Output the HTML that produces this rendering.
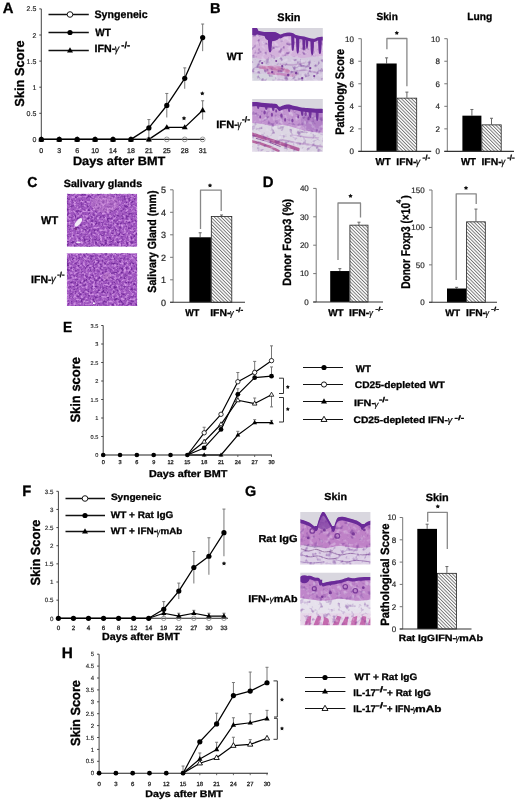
<!DOCTYPE html><html><head><meta charset="utf-8"><style>html,body{margin:0;padding:0;background:#fff;overflow:hidden;}svg{display:block;will-change:transform;}text{font-family:"Liberation Sans",sans-serif;text-rendering:geometricPrecision;}</style></head><body>
<svg width="520" height="803" viewBox="0 0 520 803" font-family="Liberation Sans, sans-serif">
<defs>
<pattern id="hatch" patternUnits="userSpaceOnUse" width="2.4" height="2.4" patternTransform="rotate(-45)">
<rect width="2.4" height="2.4" fill="#fff"/><line x1="0.5" y1="0" x2="0.5" y2="2.4" stroke="#444" stroke-width="0.7"/></pattern>
<filter id="spkD1" x="0" y="0" width="1" height="1" color-interpolation-filters="sRGB"><feTurbulence type="fractalNoise" baseFrequency="0.22" numOctaves="2" seed="11"/><feColorMatrix type="matrix" values="0 0 0 0 0.42  0 0 0 0 0.18  0 0 0 0 0.58  4 0 0 0 -2.15"/><feGaussianBlur stdDeviation="0.45"/></filter>
<filter id="spkL1" x="0" y="0" width="1" height="1" color-interpolation-filters="sRGB"><feTurbulence type="fractalNoise" baseFrequency="0.22" numOctaves="2" seed="23"/><feColorMatrix type="matrix" values="0 0 0 0 0.93  0 0 0 0 0.9  0 0 0 0 0.96  0 4 0 0 -2.05"/><feGaussianBlur stdDeviation="0.45"/></filter>
<filter id="spkD2" x="0" y="0" width="1" height="1" color-interpolation-filters="sRGB"><feTurbulence type="fractalNoise" baseFrequency="0.22" numOctaves="2" seed="37"/><feColorMatrix type="matrix" values="0 0 0 0 0.42  0 0 0 0 0.18  0 0 0 0 0.58  4 0 0 0 -2.15"/><feGaussianBlur stdDeviation="0.45"/></filter>
<filter id="spkL2" x="0" y="0" width="1" height="1" color-interpolation-filters="sRGB"><feTurbulence type="fractalNoise" baseFrequency="0.22" numOctaves="2" seed="41"/><feColorMatrix type="matrix" values="0 0 0 0 0.93  0 0 0 0 0.9  0 0 0 0 0.96  0 4 0 0 -2.05"/><feGaussianBlur stdDeviation="0.45"/></filter>
<filter id="glD1" x="0" y="0" width="1" height="1" color-interpolation-filters="sRGB"><feTurbulence type="fractalNoise" baseFrequency="0.42" numOctaves="2" seed="15"/><feColorMatrix type="matrix" values="0 0 0 0 0.44  0 0 0 0 0.16  0 0 0 0 0.6  3.4 0 0 0 -1.55"/><feGaussianBlur stdDeviation="0.4"/></filter>
<filter id="glL1" x="0" y="0" width="1" height="1" color-interpolation-filters="sRGB"><feTurbulence type="fractalNoise" baseFrequency="0.42" numOctaves="2" seed="19"/><feColorMatrix type="matrix" values="0 0 0 0 0.86  0 0 0 0 0.63  0 0 0 0 0.92  0 3.2 0 0 -1.45"/><feGaussianBlur stdDeviation="0.4"/></filter>
<filter id="glD2" x="0" y="0" width="1" height="1" color-interpolation-filters="sRGB"><feTurbulence type="fractalNoise" baseFrequency="0.42" numOctaves="2" seed="25"/><feColorMatrix type="matrix" values="0 0 0 0 0.44  0 0 0 0 0.16  0 0 0 0 0.6  3.4 0 0 0 -1.55"/><feGaussianBlur stdDeviation="0.4"/></filter>
<filter id="glL2" x="0" y="0" width="1" height="1" color-interpolation-filters="sRGB"><feTurbulence type="fractalNoise" baseFrequency="0.42" numOctaves="2" seed="29"/><feColorMatrix type="matrix" values="0 0 0 0 0.86  0 0 0 0 0.63  0 0 0 0 0.92  0 3.2 0 0 -1.45"/><feGaussianBlur stdDeviation="0.4"/></filter>
<filter id="imgblur" x="0" y="0" width="1" height="1" color-interpolation-filters="sRGB"><feGaussianBlur stdDeviation="0.6"/></filter>
</defs>
<rect width="520" height="803" fill="#fff"/>
<text x="2.65" y="13.3" font-size="15.07" font-weight="bold" fill="#000" textLength="10.72" lengthAdjust="spacingAndGlyphs" stroke="#000" stroke-width="0.3">A</text>
<line x1="41.3" y1="8.9" x2="41.3" y2="139.4" stroke="#444" stroke-width="1"/>
<line x1="39.3" y1="139.4" x2="41.3" y2="139.4" stroke="#444" stroke-width="1"/>
<text x="36.3" y="141.91" font-size="7" font-weight="normal" text-anchor="end" fill="#2a2a2a" stroke="#2a2a2a" stroke-width="0.18">0</text>
<line x1="39.3" y1="113.3" x2="41.3" y2="113.3" stroke="#444" stroke-width="1"/>
<text x="36.3" y="115.81" font-size="7" font-weight="normal" text-anchor="end" fill="#2a2a2a" stroke="#2a2a2a" stroke-width="0.18">0.5</text>
<line x1="39.3" y1="87.2" x2="41.3" y2="87.2" stroke="#444" stroke-width="1"/>
<text x="36.3" y="89.71" font-size="7" font-weight="normal" text-anchor="end" fill="#2a2a2a" stroke="#2a2a2a" stroke-width="0.18">1</text>
<line x1="39.3" y1="61.1" x2="41.3" y2="61.1" stroke="#444" stroke-width="1"/>
<text x="36.3" y="63.61" font-size="7" font-weight="normal" text-anchor="end" fill="#2a2a2a" stroke="#2a2a2a" stroke-width="0.18">1.5</text>
<line x1="39.3" y1="35" x2="41.3" y2="35" stroke="#444" stroke-width="1"/>
<text x="36.3" y="37.51" font-size="7" font-weight="normal" text-anchor="end" fill="#2a2a2a" stroke="#2a2a2a" stroke-width="0.18">2</text>
<line x1="39.3" y1="8.9" x2="41.3" y2="8.9" stroke="#444" stroke-width="1"/>
<text x="36.3" y="11.41" font-size="7" font-weight="normal" text-anchor="end" fill="#2a2a2a" stroke="#2a2a2a" stroke-width="0.18">2.5</text>
<line x1="41.3" y1="139.4" x2="204" y2="139.4" stroke="#222" stroke-width="1.1"/>
<text x="41.3" y="153.2" font-size="7" font-weight="normal" text-anchor="middle" fill="#2a2a2a" stroke="#222" stroke-width="0.28">0</text>
<text x="59.23" y="153.2" font-size="7" font-weight="normal" text-anchor="middle" fill="#2a2a2a" stroke="#222" stroke-width="0.28">3</text>
<text x="77.16" y="153.2" font-size="7" font-weight="normal" text-anchor="middle" fill="#2a2a2a" stroke="#222" stroke-width="0.28">6</text>
<text x="95.09" y="153.2" font-size="7" font-weight="normal" text-anchor="middle" fill="#2a2a2a" stroke="#222" stroke-width="0.28">10</text>
<text x="113.02" y="153.2" font-size="7" font-weight="normal" text-anchor="middle" fill="#2a2a2a" stroke="#222" stroke-width="0.28">14</text>
<text x="130.95" y="153.2" font-size="7" font-weight="normal" text-anchor="middle" fill="#2a2a2a" stroke="#222" stroke-width="0.28">18</text>
<text x="148.88" y="153.2" font-size="7" font-weight="normal" text-anchor="middle" fill="#2a2a2a" stroke="#222" stroke-width="0.28">21</text>
<text x="166.81" y="153.2" font-size="7" font-weight="normal" text-anchor="middle" fill="#2a2a2a" stroke="#222" stroke-width="0.28">25</text>
<text x="184.74" y="153.2" font-size="7" font-weight="normal" text-anchor="middle" fill="#2a2a2a" stroke="#222" stroke-width="0.28">28</text>
<text x="202.67" y="153.2" font-size="7" font-weight="normal" text-anchor="middle" fill="#2a2a2a" stroke="#222" stroke-width="0.28">31</text>
<text x="72.91" y="165.2" font-size="12.08" font-weight="bold" fill="#000" textLength="92.41" lengthAdjust="spacingAndGlyphs" stroke="#000" stroke-width="0.3">Days after BMT</text>
<text x="23.6" y="106.79" font-size="13.06" font-weight="bold" fill="#000" textLength="66.48" lengthAdjust="spacingAndGlyphs" transform="rotate(-90 23.6 106.79)" stroke="#000" stroke-width="0.3">Skin Score</text>
<line x1="48.5" y1="14.5" x2="88.8" y2="14.5" stroke="#111" stroke-width="1.4"/>
<circle cx="70" cy="14.5" r="2.8" fill="#fff" stroke="#000" stroke-width="0.9"/>
<line x1="48.5" y1="32.5" x2="88.8" y2="32.5" stroke="#111" stroke-width="1.4"/>
<circle cx="70" cy="32.5" r="2.6" fill="#000"/>
<line x1="48.5" y1="50.5" x2="88.8" y2="50.5" stroke="#111" stroke-width="1.4"/>
<polygon points="70,47.28 67.01,52.48 72.99,52.48" fill="#000"/>
<text x="94.48" y="17.6" font-size="10.83" font-weight="bold" fill="#000" textLength="53.25" lengthAdjust="spacingAndGlyphs" stroke="#000" stroke-width="0.3">Syngeneic</text>
<text x="95.3" y="36.3" font-size="10.58" font-weight="bold" fill="#000" textLength="15.55" lengthAdjust="spacingAndGlyphs" stroke="#000" stroke-width="0.3">WT</text>
<text x="94.55" y="51.9" font-size="10.43" font-weight="bold" fill="#000" textLength="20.71" lengthAdjust="spacingAndGlyphs" stroke="#000" stroke-width="0.3">IFN-</text>
<text x="114.62" y="52.11" font-size="10.41" font-weight="normal" fill="#000" textLength="4.79" lengthAdjust="spacingAndGlyphs" font-style="italic" stroke="#000" stroke-width="0.2">γ</text>
<text x="121.33" y="48.42" font-size="8.78" font-weight="bold" fill="#000" textLength="8.67" lengthAdjust="spacingAndGlyphs" stroke="#000" stroke-width="0.3">-/-</text>
<line x1="148.88" y1="119.56" x2="148.88" y2="136.27" stroke="#777" stroke-width="1"/>
<line x1="147.38" y1="119.56" x2="150.38" y2="119.56" stroke="#777" stroke-width="1"/>
<line x1="166.81" y1="93.46" x2="166.81" y2="117.48" stroke="#777" stroke-width="1"/>
<line x1="165.31" y1="93.46" x2="168.31" y2="93.46" stroke="#777" stroke-width="1"/>
<line x1="184.74" y1="67.89" x2="184.74" y2="88.77" stroke="#777" stroke-width="1"/>
<line x1="183.24" y1="67.89" x2="186.24" y2="67.89" stroke="#777" stroke-width="1"/>
<line x1="202.67" y1="24.04" x2="202.67" y2="51.18" stroke="#777" stroke-width="1"/>
<line x1="201.17" y1="24.04" x2="204.17" y2="24.04" stroke="#777" stroke-width="1"/>
<line x1="202.67" y1="100.77" x2="202.67" y2="119.56" stroke="#777" stroke-width="1"/>
<line x1="201.17" y1="100.77" x2="204.17" y2="100.77" stroke="#777" stroke-width="1"/>
<polyline points="41.3,139.4 59.23,139.4 77.16,139.4 95.09,139.4 113.02,139.4 130.95,139.4 148.88,127.92 166.81,105.47 184.74,78.33 202.67,37.61" fill="none" stroke="#000" stroke-width="1.3" stroke-linejoin="round"/>
<polyline points="41.3,139.4 59.23,139.4 77.16,139.4 95.09,139.4 113.02,139.4 130.95,139.4 148.88,139.4 166.81,127.39 184.74,127.39 202.67,110.17" fill="none" stroke="#000" stroke-width="1.3" stroke-linejoin="round"/>
<circle cx="148.88" cy="139.4" r="2.4" fill="none" stroke="#888" stroke-width="0.8"/>
<circle cx="166.81" cy="139.4" r="2.4" fill="none" stroke="#888" stroke-width="0.8"/>
<circle cx="184.74" cy="139.4" r="2.4" fill="none" stroke="#888" stroke-width="0.8"/>
<circle cx="202.67" cy="139.4" r="2.4" fill="none" stroke="#888" stroke-width="0.8"/>
<polygon points="41.3,136.18 38.31,141.38 44.29,141.38" fill="#000"/>
<polygon points="59.23,136.18 56.24,141.38 62.22,141.38" fill="#000"/>
<polygon points="77.16,136.18 74.17,141.38 80.15,141.38" fill="#000"/>
<polygon points="95.09,136.18 92.1,141.38 98.08,141.38" fill="#000"/>
<polygon points="113.02,136.18 110.03,141.38 116.01,141.38" fill="#000"/>
<polygon points="130.95,136.18 127.96,141.38 133.94,141.38" fill="#000"/>
<polygon points="148.88,136.18 145.89,141.38 151.87,141.38" fill="#000"/>
<polygon points="166.81,124.17 163.82,129.37 169.8,129.37" fill="#000"/>
<polygon points="184.74,124.17 181.75,129.37 187.73,129.37" fill="#000"/>
<polygon points="202.67,106.94 199.68,112.14 205.66,112.14" fill="#000"/>
<circle cx="41.3" cy="139.4" r="2.6" fill="#000"/>
<circle cx="59.23" cy="139.4" r="2.6" fill="#000"/>
<circle cx="77.16" cy="139.4" r="2.6" fill="#000"/>
<circle cx="95.09" cy="139.4" r="2.6" fill="#000"/>
<circle cx="113.02" cy="139.4" r="2.6" fill="#000"/>
<circle cx="130.95" cy="139.4" r="2.6" fill="#000"/>
<circle cx="148.88" cy="127.92" r="2.6" fill="#000"/>
<circle cx="166.81" cy="105.47" r="2.6" fill="#000"/>
<circle cx="184.74" cy="78.33" r="2.6" fill="#000"/>
<circle cx="202.67" cy="37.61" r="2.6" fill="#000"/>
<polygon points="184,116 184.74,117.28 186.19,117.59 185.2,118.69 185.35,120.16 184,119.56 182.65,120.16 182.8,118.69 181.81,117.59 183.26,117.28" fill="#111"/>
<polygon points="202.3,91.2 203.04,92.48 204.49,92.79 203.5,93.89 203.65,95.36 202.3,94.77 200.95,95.36 201.1,93.89 200.11,92.79 201.56,92.48" fill="#111"/>
<text x="209.98" y="13" font-size="14.2" font-weight="bold" fill="#000" textLength="10.54" lengthAdjust="spacingAndGlyphs" stroke="#000" stroke-width="0.3">B</text>
<text x="277.37" y="20.7" font-size="10.97" font-weight="bold" fill="#000" textLength="23.1" lengthAdjust="spacingAndGlyphs" stroke="#000" stroke-width="0.3">Skin</text>
<text x="226.7" y="59.7" font-size="10.58" font-weight="bold" fill="#000" textLength="16.35" lengthAdjust="spacingAndGlyphs" stroke="#000" stroke-width="0.3">WT</text>
<text x="216.22" y="127.8" font-size="10.58" font-weight="bold" fill="#000" textLength="21.67" lengthAdjust="spacingAndGlyphs" stroke="#000" stroke-width="0.3">IFN-</text>
<text x="237.33" y="128.23" font-size="10.81" font-weight="normal" fill="#000" textLength="3.96" lengthAdjust="spacingAndGlyphs" font-style="italic" stroke="#000" stroke-width="0.2">γ</text>
<text x="242.06" y="122.34" font-size="7.84" font-weight="bold" fill="#000" textLength="8.01" lengthAdjust="spacingAndGlyphs" stroke="#000" stroke-width="0.3">-/-</text>
<clipPath id="cl1"><rect x="0" y="0" width="70.6" height="52.6"/></clipPath>
<g transform="translate(252.2 28.1)" clip-path="url(#cl1)">
<g filter="url(#imgblur)">
<rect x="-1" y="-1" width="72.6" height="54.6" fill="#d8d6de"/>
<path d="M-1,-1 C-0.33,-0.63 1.67,0.57 3,1.2 C4.33,1.83 5.5,2.37 7,2.8 C8.5,3.23 10.17,3.6 12,3.8 C13.83,4 16,3.88 18,4 C20,4.12 22.33,4.12 24,4.5 C25.67,4.88 26.67,6.2 28,6.3 C29.33,6.4 30.5,5.4 32,5.1 C33.5,4.8 35.5,4.48 37,4.5 C38.5,4.52 39.83,4.78 41,5.2 C42.17,5.62 42.83,6.57 44,7 C45.17,7.43 46.67,7.58 48,7.8 C49.33,8.02 50.5,7.97 52,8.3 C53.5,8.63 55.33,9.42 57,9.8 C58.67,10.18 60.5,10.72 62,10.6 C63.5,10.48 64.33,9.42 66,9.1 C67.67,8.78 71,8.77 72,8.7 L71.6,53.6 L0,53.6 Z" fill="#d3b2db"/>
<path d="M-1,29 C0.83,29.33 6.17,30.83 10,31 C13.83,31.17 17.83,30.5 22,30 C26.17,29.5 30.67,28 35,28 C39.33,28 43.83,29.83 48,30 C52.17,30.17 56,29.33 60,29 C64,28.67 70,28.17 72,28 L71.6,53.6 L0,53.6 Z" fill="#d3c7de"/>
<rect x="-1" y="46" width="24" height="8" fill="#d4d3de"/>
<ellipse cx="22" cy="41" rx="11" ry="3.6" fill="#c890c2" opacity="0.85"/>
<ellipse cx="38" cy="46" rx="8" ry="2.6" fill="#c596c6" opacity="0.7"/>
<path d="M8,39 C9.33,39.08 13,39.17 16,39.5 C19,39.83 22.67,40.42 26,41 C29.33,41.58 34.33,42.67 36,43" fill="none" stroke="#c47cb0" stroke-width="3.4" stroke-linecap="round"/>
<path d="M16,45 C18,45.17 24,45.58 28,46 C32,46.42 38,47.25 40,47.5" fill="none" stroke="#c88ac0" stroke-width="2.4" stroke-linecap="round"/>
<path d="M40,44 C42,43.67 47.67,41.83 52,42 C56.33,42.17 63.67,44.5 66,45" fill="none" stroke="#b898c8" stroke-width="1.8" stroke-linecap="round"/>
<path d="M28,36 C30,36.17 36,37.17 40,37 C44,36.83 50,35.33 52,35" fill="none" stroke="#bfa0cc" stroke-width="1.5" stroke-linecap="round"/>
<rect x="0" y="0" width="70.6" height="52.6" filter="url(#spkD1)" opacity="0.55"/>
<rect x="0" y="0" width="70.6" height="52.6" filter="url(#spkL1)" opacity="0.4"/>
<path d="M-1,-1 C-0.33,-0.63 1.67,0.57 3,1.2 C4.33,1.83 5.5,2.37 7,2.8 C8.5,3.23 10.17,3.6 12,3.8 C13.83,4 16,3.88 18,4 C20,4.12 22.33,4.12 24,4.5 C25.67,4.88 26.67,6.2 28,6.3 C29.33,6.4 30.5,5.4 32,5.1 C33.5,4.8 35.5,4.48 37,4.5 C38.5,4.52 39.83,4.78 41,5.2 C42.17,5.62 42.83,6.57 44,7 C45.17,7.43 46.67,7.58 48,7.8 C49.33,8.02 50.5,7.97 52,8.3 C53.5,8.63 55.33,9.42 57,9.8 C58.67,10.18 60.5,10.72 62,10.6 C63.5,10.48 64.33,9.42 66,9.1 C67.67,8.78 71,8.77 72,8.7 L72.6,-2 L-2,-2 Z" fill="#d8d6de"/>
<path d="M-1,-1 C-0.33,-0.63 1.67,0.57 3,1.2 C4.33,1.83 5.5,2.37 7,2.8 C8.5,3.23 10.17,3.6 12,3.8 C13.83,4 16,3.88 18,4 C20,4.12 22.33,4.12 24,4.5 C25.67,4.88 26.67,6.2 28,6.3 C29.33,6.4 30.5,5.4 32,5.1 C33.5,4.8 35.5,4.48 37,4.5 C38.5,4.52 39.83,4.78 41,5.2 C42.17,5.62 42.83,6.57 44,7 C45.17,7.43 46.67,7.58 48,7.8 C49.33,8.02 50.5,7.97 52,8.3 C53.5,8.63 55.33,9.42 57,9.8 C58.67,10.18 60.5,10.72 62,10.6 C63.5,10.48 64.33,9.42 66,9.1 C67.67,8.78 71,8.77 72,8.7 L72,12.1 C71,12.17 67.67,12.18 66,12.5 C64.33,12.82 63.5,13.88 62,14 C60.5,14.12 58.67,13.58 57,13.2 C55.33,12.82 53.5,12.03 52,11.7 C50.5,11.37 49.33,11.42 48,11.2 C46.67,10.98 45.17,10.83 44,10.4 C42.83,9.97 42.17,9.02 41,8.6 C39.83,8.18 38.5,7.92 37,7.9 C35.5,7.88 33.5,8.07 32,8.5 C30.5,8.93 29.33,10.47 28,10.5 C26.67,10.53 25.67,9.08 24,8.7 C22.33,8.32 20,8.32 18,8.2 C16,8.08 13.83,8.2 12,8 C10.17,7.8 8.5,7.43 7,7 C5.5,6.57 4.33,6.03 3,5.4 C1.67,4.77 -0.33,3.57 -1,3.2 Z" fill="#6a2a98"/>
<ellipse cx="20" cy="8.5" rx="7.5" ry="4.6" fill="#6a2a98"/>
<ellipse cx="2" cy="3" rx="4" ry="4.5" fill="#6a2a98"/>
<path d="M15.7,9 C15.91,21.98 16.54,24.5 17.8,24.5 C19.06,24.5 19.69,21.98 19.9,9 Z" fill="#6a2a98" opacity="1"/>
<path d="M39,8 C39.16,20.98 39.64,22.9 40.6,22.9 C41.56,22.9 42.04,20.98 42.2,8 Z" fill="#6a2a98" opacity="1"/>
<path d="M43.8,9 C43.97,23.46 44.48,25.5 45.5,25.5 C46.52,25.5 47.03,23.46 47.2,9 Z" fill="#6a2a98" opacity="1"/>
<path d="M50.1,10 C50.26,20.08 50.74,22 51.7,22 C52.66,22 53.14,20.08 53.3,10 Z" fill="#6a2a98" opacity="1"/>
<path d="M53.5,10 C53.63,18.94 54.02,20.5 54.8,20.5 C55.58,20.5 55.97,18.94 56.1,10 Z" fill="#6a2a98" opacity="1"/>
<path d="M58.2,12 C58.38,24.84 58.92,27 60,27 C61.08,27 61.62,24.84 61.8,12 Z" fill="#6a2a98" opacity="1"/>
<path d="M65.9,11 C66.08,23.84 66.62,26 67.7,26 C68.78,26 69.32,23.84 69.5,11 Z" fill="#6a2a98" opacity="1"/>
<circle cx="44" cy="45" r="1.3" fill="#7a3f9c"/>
<circle cx="30" cy="38" r="1.1" fill="#7a3f9c"/>
<circle cx="58" cy="40" r="1.2" fill="#7a3f9c"/>
<circle cx="10" cy="35" r="1.1" fill="#7a3f9c"/>
<circle cx="20" cy="44" r="1.2" fill="#7a3f9c"/>
<circle cx="36" cy="47" r="1.3" fill="#7a3f9c"/>
<circle cx="62" cy="48" r="1.1" fill="#7a3f9c"/>
<circle cx="50" cy="50" r="1.2" fill="#7a3f9c"/>
<circle cx="24" cy="33" r="1" fill="#7a3f9c"/>
</g>
</g>
<clipPath id="cl2"><rect x="0" y="0" width="70.6" height="52.8"/></clipPath>
<g transform="translate(252.2 98.9)" clip-path="url(#cl2)">
<g filter="url(#imgblur)">
<rect x="-1" y="-1" width="72.6" height="54.8" fill="#d8d6de"/>
<path d="M-1,3.1 C0.17,3.13 3.77,3.13 6,3.3 C8.23,3.47 10.4,3.88 12.4,4.1 C14.4,4.32 16.05,4.42 18,4.6 C19.95,4.78 22.6,4.67 24.1,5.2 C25.6,5.73 25.85,7.58 27,7.8 C28.15,8.02 29.53,6.87 31,6.5 C32.47,6.13 34.3,5.6 35.8,5.6 C37.3,5.6 38.47,6.18 40,6.5 C41.53,6.82 43.5,7.17 45,7.5 C46.5,7.83 47.33,8.25 49,8.5 C50.67,8.75 53.05,8.83 55,9 C56.95,9.17 58.87,9.37 60.7,9.5 C62.53,9.63 64.12,9.72 66,9.8 C67.88,9.88 71,9.97 72,10 L71.6,53.8 L0,53.8 Z" fill="#c295d0"/>
<ellipse cx="62" cy="22" rx="13" ry="11" fill="#aa78c2" opacity="0.7"/>
<path d="M-1,24 C0.83,24.17 6.5,24.5 10,25 C13.5,25.5 16.67,26.83 20,27 C23.33,27.17 26.67,25.83 30,26 C33.33,26.17 36.67,27.17 40,28 C43.33,28.83 46.67,30.17 50,31 C53.33,31.83 56.33,32.5 60,33 C63.67,33.5 70,33.83 72,34 L71.6,53.8 L0,53.8 Z" fill="#dcd6e3"/>
<path d="M-1,35 C0.83,35.58 6.17,37.25 10,38.5 C13.83,39.75 18,41.17 22,42.5 C26,43.83 30,45.17 34,46.5 C38,47.83 44,49.83 46,50.5" fill="none" stroke="#b05e9c" stroke-width="3.4" stroke-linecap="round"/>
<path d="M-1,42 C0.5,42.42 4.83,43.5 8,44.5 C11.17,45.5 15,46.75 18,48 C21,49.25 24.67,51.33 26,52" fill="none" stroke="#b8689f" stroke-width="2.6" stroke-linecap="round"/>
<path d="M4,39.5 C6,40.08 12,41.67 16,43 C20,44.33 26,46.75 28,47.5" fill="none" stroke="#8a4a98" stroke-width="0.9" stroke-linecap="round"/>
<path d="M30,41 C32.33,41.5 39.33,43.17 44,44 C48.67,44.83 53.33,45.33 58,46 C62.67,46.67 69.67,47.67 72,48" fill="none" stroke="#bfa0cc" stroke-width="1.8" stroke-linecap="round"/>
<path d="M40,36 C42,36.33 47.67,37.5 52,38 C56.33,38.5 63.67,38.83 66,39" fill="none" stroke="#c4a8d2" stroke-width="1.5" stroke-linecap="round"/>
<rect x="0" y="0" width="70.6" height="52.8" filter="url(#spkD2)" opacity="0.45"/>
<rect x="0" y="0" width="70.6" height="52.8" filter="url(#spkL2)" opacity="0.45"/>
<path d="M-1,3.1 C0.17,3.13 3.77,3.13 6,3.3 C8.23,3.47 10.4,3.88 12.4,4.1 C14.4,4.32 16.05,4.42 18,4.6 C19.95,4.78 22.6,4.67 24.1,5.2 C25.6,5.73 25.85,7.58 27,7.8 C28.15,8.02 29.53,6.87 31,6.5 C32.47,6.13 34.3,5.6 35.8,5.6 C37.3,5.6 38.47,6.18 40,6.5 C41.53,6.82 43.5,7.17 45,7.5 C46.5,7.83 47.33,8.25 49,8.5 C50.67,8.75 53.05,8.83 55,9 C56.95,9.17 58.87,9.37 60.7,9.5 C62.53,9.63 64.12,9.72 66,9.8 C67.88,9.88 71,9.97 72,10 L72.6,-2 L-2,-2 Z" fill="#d8d6de"/>
<path d="M-1,3.1 C0.17,3.13 3.77,3.13 6,3.3 C8.23,3.47 10.4,3.88 12.4,4.1 C14.4,4.32 16.05,4.42 18,4.6 C19.95,4.78 22.6,4.67 24.1,5.2 C25.6,5.73 25.85,7.58 27,7.8 C28.15,8.02 29.53,6.87 31,6.5 C32.47,6.13 34.3,5.6 35.8,5.6 C37.3,5.6 38.47,6.18 40,6.5 C41.53,6.82 43.5,7.17 45,7.5 C46.5,7.83 47.33,8.25 49,8.5 C50.67,8.75 53.05,8.83 55,9 C56.95,9.17 58.87,9.37 60.7,9.5 C62.53,9.63 64.12,9.72 66,9.8 C67.88,9.88 71,9.97 72,10 L72,14.2 C71,14.17 67.88,14.08 66,14 C64.12,13.92 62.53,13.83 60.7,13.7 C58.87,13.57 56.95,13.37 55,13.2 C53.05,13.03 50.67,12.95 49,12.7 C47.33,12.45 46.5,12.03 45,11.7 C43.5,11.37 41.53,11.02 40,10.7 C38.47,10.38 37.3,9.8 35.8,9.8 C34.3,9.8 32.47,10.33 31,10.7 C29.53,11.07 28.15,12.22 27,12 C25.85,11.78 25.6,9.93 24.1,9.4 C22.6,8.87 19.95,8.98 18,8.8 C16.05,8.62 14.4,8.52 12.4,8.3 C10.4,8.08 8.23,7.67 6,7.5 C3.77,7.33 0.17,7.33 -1,7.3 Z" fill="#6a2a98"/>
<path d="M4.5,6 C4.65,8.2 5.1,10 6,10 C6.9,10 7.35,8.2 7.5,6 Z" fill="#6a2a98" opacity="0.9"/>
<path d="M12.5,7 C12.65,9.2 13.1,11 14,11 C14.9,11 15.35,9.2 15.5,7 Z" fill="#6a2a98" opacity="0.9"/>
<path d="M19.5,8 C19.65,10.2 20.1,12 21,12 C21.9,12 22.35,10.2 22.5,8 Z" fill="#6a2a98" opacity="0.9"/>
<path d="M35.5,9 C35.65,11.2 36.1,13 37,13 C37.9,13 38.35,11.2 38.5,9 Z" fill="#6a2a98" opacity="0.9"/>
<path d="M48.5,11 C48.65,15.2 49.1,17 50,17 C50.9,17 51.35,15.2 51.5,11 Z" fill="#6a2a98" opacity="0.9"/>
<path d="M56.5,12 C56.65,17.2 57.1,19 58,19 C58.9,19 59.35,17.2 59.5,12 Z" fill="#6a2a98" opacity="0.9"/>
<path d="M63.5,12 C63.65,20.2 64.1,22 65,22 C65.9,22 66.35,20.2 66.5,12 Z" fill="#6a2a98" opacity="0.9"/>
<ellipse cx="12.4" cy="13.6" rx="1.2" ry="2.1" fill="#7c3ca0" opacity="0.9"/>
<ellipse cx="19.7" cy="15.8" rx="1.12" ry="1.96" fill="#7c3ca0" opacity="0.9"/>
<ellipse cx="29.2" cy="16.6" rx="1.2" ry="2.1" fill="#7c3ca0" opacity="0.9"/>
<ellipse cx="32.9" cy="21" rx="1.04" ry="1.82" fill="#7c3ca0" opacity="0.9"/>
<ellipse cx="40.2" cy="21.7" rx="1.12" ry="1.96" fill="#7c3ca0" opacity="0.9"/>
<ellipse cx="53.4" cy="15.1" rx="1.28" ry="2.24" fill="#7c3ca0" opacity="0.9"/>
<ellipse cx="56.3" cy="19.5" rx="1.12" ry="1.96" fill="#7c3ca0" opacity="0.9"/>
<ellipse cx="8" cy="18" rx="0.96" ry="1.68" fill="#7c3ca0" opacity="0.9"/>
<ellipse cx="24" cy="12" rx="0.96" ry="1.68" fill="#7c3ca0" opacity="0.9"/>
<ellipse cx="46" cy="18" rx="0.96" ry="1.68" fill="#7c3ca0" opacity="0.9"/>
</g>
</g>
<line x1="386.6" y1="57.86" x2="386.6" y2="63.49" stroke="#666" stroke-width="1"/>
<line x1="385.1" y1="57.86" x2="388.1" y2="57.86" stroke="#666" stroke-width="1"/>
<line x1="406.9" y1="92.12" x2="406.9" y2="97.75" stroke="#666" stroke-width="1"/>
<line x1="405.4" y1="92.12" x2="408.4" y2="92.12" stroke="#666" stroke-width="1"/>
<line x1="361.3" y1="38.7" x2="361.3" y2="151.4" stroke="#777" stroke-width="1"/>
<line x1="358.3" y1="151.4" x2="361.3" y2="151.4" stroke="#777" stroke-width="1"/>
<text x="353.9" y="154.26" font-size="8" font-weight="normal" text-anchor="end" fill="#2a2a2a" stroke="#2a2a2a" stroke-width="0.2">0</text>
<line x1="358.3" y1="128.86" x2="361.3" y2="128.86" stroke="#777" stroke-width="1"/>
<text x="353.9" y="131.72" font-size="8" font-weight="normal" text-anchor="end" fill="#2a2a2a" stroke="#2a2a2a" stroke-width="0.2">2</text>
<line x1="358.3" y1="106.32" x2="361.3" y2="106.32" stroke="#777" stroke-width="1"/>
<text x="353.9" y="109.18" font-size="8" font-weight="normal" text-anchor="end" fill="#2a2a2a" stroke="#2a2a2a" stroke-width="0.2">4</text>
<line x1="358.3" y1="83.78" x2="361.3" y2="83.78" stroke="#777" stroke-width="1"/>
<text x="353.9" y="86.64" font-size="8" font-weight="normal" text-anchor="end" fill="#2a2a2a" stroke="#2a2a2a" stroke-width="0.2">6</text>
<line x1="358.3" y1="61.24" x2="361.3" y2="61.24" stroke="#777" stroke-width="1"/>
<text x="353.9" y="64.1" font-size="8" font-weight="normal" text-anchor="end" fill="#2a2a2a" stroke="#2a2a2a" stroke-width="0.2">8</text>
<line x1="358.3" y1="38.7" x2="361.3" y2="38.7" stroke="#777" stroke-width="1"/>
<text x="353.9" y="41.56" font-size="8" font-weight="normal" text-anchor="end" fill="#2a2a2a" stroke="#2a2a2a" stroke-width="0.2">10</text>
<rect x="376.5" y="63.49" width="20.2" height="87.91" fill="#000"/>
<rect x="397.1" y="98.15" width="19.6" height="53.25" fill="url(#hatch)" stroke="#222" stroke-width="0.8"/>
<line x1="358.3" y1="151.4" x2="431.2" y2="151.4" stroke="#333" stroke-width="1.1"/>
<polyline points="386.9,49.3 386.9,38.5 406.9,38.5 406.9,86.3" fill="none" stroke="#888" stroke-width="1.3" stroke-linejoin="round"/>
<polygon points="396.8,30.7 397.54,31.98 398.99,32.29 398,33.39 398.15,34.86 396.8,34.27 395.45,34.86 395.6,33.39 394.61,32.29 396.06,31.98" fill="#111"/>
<text x="376.5" y="20" font-size="10.28" font-weight="bold" fill="#000" textLength="21.33" lengthAdjust="spacingAndGlyphs" stroke="#000" stroke-width="0.3">Skin</text>
<text x="344.1" y="134.66" font-size="12.36" font-weight="bold" fill="#000" textLength="85.7" lengthAdjust="spacingAndGlyphs" transform="rotate(-90 344.1 134.66)" stroke="#000" stroke-width="0.3">Pathology Score</text>
<text x="375.5" y="165.3" font-size="10.14" font-weight="bold" fill="#000" textLength="15.14" lengthAdjust="spacingAndGlyphs" stroke="#000" stroke-width="0.3">WT</text>
<text x="396.38" y="164.9" font-size="9.71" font-weight="bold" fill="#000" textLength="19.97" lengthAdjust="spacingAndGlyphs" stroke="#000" stroke-width="0.3">IFN-</text>
<text x="415.78" y="165.33" font-size="9.86" font-weight="normal" fill="#000" textLength="4.37" lengthAdjust="spacingAndGlyphs" font-style="italic" stroke="#000" stroke-width="0.2">γ</text>
<text x="422.47" y="160.35" font-size="7.3" font-weight="bold" fill="#000" textLength="7.68" lengthAdjust="spacingAndGlyphs" stroke="#000" stroke-width="0.3">-/-</text>
<line x1="471.9" y1="109.48" x2="471.9" y2="115.67" stroke="#666" stroke-width="1"/>
<line x1="470.4" y1="109.48" x2="473.4" y2="109.48" stroke="#666" stroke-width="1"/>
<line x1="491.5" y1="118.27" x2="491.5" y2="124.46" stroke="#666" stroke-width="1"/>
<line x1="490" y1="118.27" x2="493" y2="118.27" stroke="#666" stroke-width="1"/>
<line x1="447.3" y1="38.7" x2="447.3" y2="151.4" stroke="#777" stroke-width="1"/>
<line x1="444.3" y1="151.4" x2="447.3" y2="151.4" stroke="#777" stroke-width="1"/>
<text x="439.9" y="154.26" font-size="8" font-weight="normal" text-anchor="end" fill="#2a2a2a" stroke="#2a2a2a" stroke-width="0.2">0</text>
<line x1="444.3" y1="128.86" x2="447.3" y2="128.86" stroke="#777" stroke-width="1"/>
<text x="439.9" y="131.72" font-size="8" font-weight="normal" text-anchor="end" fill="#2a2a2a" stroke="#2a2a2a" stroke-width="0.2">2</text>
<line x1="444.3" y1="106.32" x2="447.3" y2="106.32" stroke="#777" stroke-width="1"/>
<text x="439.9" y="109.18" font-size="8" font-weight="normal" text-anchor="end" fill="#2a2a2a" stroke="#2a2a2a" stroke-width="0.2">4</text>
<line x1="444.3" y1="83.78" x2="447.3" y2="83.78" stroke="#777" stroke-width="1"/>
<text x="439.9" y="86.64" font-size="8" font-weight="normal" text-anchor="end" fill="#2a2a2a" stroke="#2a2a2a" stroke-width="0.2">6</text>
<line x1="444.3" y1="61.24" x2="447.3" y2="61.24" stroke="#777" stroke-width="1"/>
<text x="439.9" y="64.1" font-size="8" font-weight="normal" text-anchor="end" fill="#2a2a2a" stroke="#2a2a2a" stroke-width="0.2">8</text>
<line x1="444.3" y1="38.7" x2="447.3" y2="38.7" stroke="#777" stroke-width="1"/>
<text x="439.9" y="41.56" font-size="8" font-weight="normal" text-anchor="end" fill="#2a2a2a" stroke="#2a2a2a" stroke-width="0.2">10</text>
<rect x="462.4" y="115.67" width="19" height="35.73" fill="#000"/>
<rect x="481.8" y="124.86" width="19.4" height="26.54" fill="url(#hatch)" stroke="#222" stroke-width="0.8"/>
<line x1="444.3" y1="151.4" x2="514" y2="151.4" stroke="#333" stroke-width="1.1"/>
<text x="467.18" y="20.4" font-size="10.43" font-weight="bold" fill="#000" textLength="24.96" lengthAdjust="spacingAndGlyphs" stroke="#000" stroke-width="0.3">Lung</text>
<text x="460.9" y="165.3" font-size="10.14" font-weight="bold" fill="#000" textLength="15.14" lengthAdjust="spacingAndGlyphs" stroke="#000" stroke-width="0.3">WT</text>
<text x="481.47" y="164.9" font-size="9.71" font-weight="bold" fill="#000" textLength="20.18" lengthAdjust="spacingAndGlyphs" stroke="#000" stroke-width="0.3">IFN-</text>
<text x="501.1" y="165.33" font-size="9.86" font-weight="normal" fill="#000" textLength="4.17" lengthAdjust="spacingAndGlyphs" font-style="italic" stroke="#000" stroke-width="0.2">γ</text>
<text x="507.17" y="160.35" font-size="7.3" font-weight="bold" fill="#000" textLength="7.68" lengthAdjust="spacingAndGlyphs" stroke="#000" stroke-width="0.3">-/-</text>
<text x="27.33" y="186.9" font-size="14.43" font-weight="bold" fill="#000" textLength="10.22" lengthAdjust="spacingAndGlyphs" stroke="#000" stroke-width="0.3">C</text>
<text x="63.78" y="187.1" font-size="10.42" font-weight="bold" fill="#000" textLength="78.31" lengthAdjust="spacingAndGlyphs" stroke="#000" stroke-width="0.3">Salivary glands</text>
<text x="41.1" y="223.9" font-size="11.16" font-weight="bold" fill="#000" textLength="17.06" lengthAdjust="spacingAndGlyphs" stroke="#000" stroke-width="0.3">WT</text>
<text x="31.06" y="282.6" font-size="10.58" font-weight="bold" fill="#000" textLength="20.5" lengthAdjust="spacingAndGlyphs" stroke="#000" stroke-width="0.3">IFN-</text>
<text x="50.92" y="282.43" font-size="9.86" font-weight="normal" fill="#000" textLength="4.79" lengthAdjust="spacingAndGlyphs" font-style="italic" stroke="#000" stroke-width="0.2">γ</text>
<text x="57.29" y="276.66" font-size="7.16" font-weight="bold" fill="#000" textLength="7.24" lengthAdjust="spacingAndGlyphs" stroke="#000" stroke-width="0.3">-/-</text>
<clipPath id="cl3"><rect x="0" y="0" width="70.3" height="52.9"/></clipPath>
<g transform="translate(66.9 193.8)" clip-path="url(#cl3)">
<rect x="0" y="0" width="70.3" height="52.9" fill="#a056c0"/>
<rect x="0" y="0" width="70.3" height="52.9" filter="url(#glD1)" opacity="1"/>
<rect x="0" y="0" width="70.3" height="52.9" filter="url(#glL1)" opacity="0.85"/>
<ellipse cx="11.5" cy="28.5" rx="2.2" ry="5.2" transform="rotate(40 11.5 28.5)" fill="#f1ebf6"/>
<ellipse cx="11.5" cy="48.5" rx="2.4" ry="0.9" fill="#eee6f4"/>
<ellipse cx="38" cy="10" rx="14" ry="9" fill="#d49ad8" opacity="0.3"/>
<circle cx="9" cy="35" r="1.2" fill="#7a2f8a"/>
</g>
<clipPath id="cl4"><rect x="0" y="0" width="70.3" height="52.8"/></clipPath>
<g transform="translate(66.9 253.2)" clip-path="url(#cl4)">
<rect x="0" y="0" width="70.3" height="52.8" fill="#a056c0"/>
<rect x="0" y="0" width="70.3" height="52.8" filter="url(#glD2)" opacity="1"/>
<rect x="0" y="0" width="70.3" height="52.8" filter="url(#glL2)" opacity="0.85"/>
<circle cx="27" cy="50" r="1" fill="#fff"/>
<ellipse cx="40" cy="23" rx="4" ry="3.5" fill="#d7a0d0" opacity="0.3"/>
</g>
<line x1="200.15" y1="232.78" x2="200.15" y2="237.28" stroke="#666" stroke-width="1"/>
<line x1="198.65" y1="232.78" x2="201.65" y2="232.78" stroke="#666" stroke-width="1"/>
<line x1="221.55" y1="215" x2="221.55" y2="216.12" stroke="#666" stroke-width="1"/>
<line x1="220.05" y1="215" x2="223.05" y2="215" stroke="#666" stroke-width="1"/>
<line x1="173.1" y1="189.8" x2="173.1" y2="302.3" stroke="#777" stroke-width="1"/>
<line x1="170.1" y1="302.3" x2="173.1" y2="302.3" stroke="#777" stroke-width="1"/>
<text x="166.1" y="305.52" font-size="9" font-weight="normal" text-anchor="end" fill="#2a2a2a" stroke="#2a2a2a" stroke-width="0.23">0</text>
<line x1="170.1" y1="279.8" x2="173.1" y2="279.8" stroke="#777" stroke-width="1"/>
<text x="166.1" y="283.02" font-size="9" font-weight="normal" text-anchor="end" fill="#2a2a2a" stroke="#2a2a2a" stroke-width="0.23">1</text>
<line x1="170.1" y1="257.3" x2="173.1" y2="257.3" stroke="#777" stroke-width="1"/>
<text x="166.1" y="260.52" font-size="9" font-weight="normal" text-anchor="end" fill="#2a2a2a" stroke="#2a2a2a" stroke-width="0.23">2</text>
<line x1="170.1" y1="234.8" x2="173.1" y2="234.8" stroke="#777" stroke-width="1"/>
<text x="166.1" y="238.02" font-size="9" font-weight="normal" text-anchor="end" fill="#2a2a2a" stroke="#2a2a2a" stroke-width="0.23">3</text>
<line x1="170.1" y1="212.3" x2="173.1" y2="212.3" stroke="#777" stroke-width="1"/>
<text x="166.1" y="215.52" font-size="9" font-weight="normal" text-anchor="end" fill="#2a2a2a" stroke="#2a2a2a" stroke-width="0.23">4</text>
<line x1="170.1" y1="189.8" x2="173.1" y2="189.8" stroke="#777" stroke-width="1"/>
<text x="166.1" y="193.02" font-size="9" font-weight="normal" text-anchor="end" fill="#2a2a2a" stroke="#2a2a2a" stroke-width="0.23">5</text>
<rect x="189.4" y="237.28" width="21.5" height="65.03" fill="#000"/>
<rect x="211.3" y="216.53" width="20.5" height="85.78" fill="url(#hatch)" stroke="#222" stroke-width="0.8"/>
<line x1="170.1" y1="302.3" x2="245" y2="302.3" stroke="#333" stroke-width="1.1"/>
<polyline points="200.5,229 200.5,190.2 221.2,190.2 221.2,211" fill="none" stroke="#888" stroke-width="1.3" stroke-linejoin="round"/>
<polygon points="210,183.2 210.74,184.48 212.19,184.79 211.2,185.89 211.35,187.36 210,186.76 208.65,187.36 208.8,185.89 207.81,184.79 209.26,184.48" fill="#111"/>
<text x="185.2" y="315.7" font-size="10" font-weight="bold" fill="#000" textLength="14.03" lengthAdjust="spacingAndGlyphs" stroke="#000" stroke-width="0.3">WT</text>
<text x="210.17" y="315.7" font-size="10" font-weight="bold" fill="#000" textLength="20.29" lengthAdjust="spacingAndGlyphs" stroke="#000" stroke-width="0.3">IFN-</text>
<text x="229.72" y="316.01" font-size="9.46" font-weight="normal" fill="#000" textLength="3.96" lengthAdjust="spacingAndGlyphs" font-style="italic" stroke="#000" stroke-width="0.2">γ</text>
<text x="235.68" y="311.68" font-size="6.22" font-weight="bold" fill="#000" textLength="7.57" lengthAdjust="spacingAndGlyphs" stroke="#000" stroke-width="0.3">-/-</text>
<text x="155.7" y="292.62" font-size="11.81" font-weight="bold" fill="#000" textLength="102.14" lengthAdjust="spacingAndGlyphs" transform="rotate(-90 155.7 292.62)" stroke="#000" stroke-width="0.3">Salivary Gland (mm)</text>
<text x="262.86" y="187.1" font-size="14.93" font-weight="bold" fill="#000" textLength="10.77" lengthAdjust="spacingAndGlyphs" stroke="#000" stroke-width="0.3">D</text>
<line x1="339.85" y1="268.63" x2="339.85" y2="271.04" stroke="#666" stroke-width="1"/>
<line x1="338.35" y1="268.63" x2="341.35" y2="268.63" stroke="#666" stroke-width="1"/>
<line x1="358.95" y1="222.2" x2="358.95" y2="224.75" stroke="#666" stroke-width="1"/>
<line x1="357.45" y1="222.2" x2="360.45" y2="222.2" stroke="#666" stroke-width="1"/>
<line x1="316.2" y1="188.4" x2="316.2" y2="302" stroke="#777" stroke-width="1"/>
<line x1="313.2" y1="302" x2="316.2" y2="302" stroke="#777" stroke-width="1"/>
<text x="308.8" y="304.86" font-size="8" font-weight="normal" text-anchor="end" fill="#2a2a2a" stroke="#2a2a2a" stroke-width="0.2">0</text>
<line x1="313.2" y1="273.6" x2="316.2" y2="273.6" stroke="#777" stroke-width="1"/>
<text x="308.8" y="276.46" font-size="8" font-weight="normal" text-anchor="end" fill="#2a2a2a" stroke="#2a2a2a" stroke-width="0.2">10</text>
<line x1="313.2" y1="245.2" x2="316.2" y2="245.2" stroke="#777" stroke-width="1"/>
<text x="308.8" y="248.06" font-size="8" font-weight="normal" text-anchor="end" fill="#2a2a2a" stroke="#2a2a2a" stroke-width="0.2">20</text>
<line x1="313.2" y1="216.8" x2="316.2" y2="216.8" stroke="#777" stroke-width="1"/>
<text x="308.8" y="219.66" font-size="8" font-weight="normal" text-anchor="end" fill="#2a2a2a" stroke="#2a2a2a" stroke-width="0.2">30</text>
<line x1="313.2" y1="188.4" x2="316.2" y2="188.4" stroke="#777" stroke-width="1"/>
<text x="308.8" y="191.26" font-size="8" font-weight="normal" text-anchor="end" fill="#2a2a2a" stroke="#2a2a2a" stroke-width="0.2">40</text>
<rect x="330.2" y="271.04" width="19.3" height="30.96" fill="#000"/>
<rect x="349.9" y="225.15" width="18.1" height="76.85" fill="url(#hatch)" stroke="#222" stroke-width="0.8"/>
<line x1="313.2" y1="302" x2="383" y2="302" stroke="#333" stroke-width="1.1"/>
<polyline points="338,260 338,203 360.5,203 360.5,217.5" fill="none" stroke="#888" stroke-width="1.3" stroke-linejoin="round"/>
<polygon points="350.5,193.7 351.24,194.98 352.69,195.29 351.7,196.39 351.85,197.86 350.5,197.26 349.15,197.86 349.3,196.39 348.31,195.29 349.76,194.98" fill="#111"/>
<text x="328.2" y="316.1" font-size="10" font-weight="bold" fill="#000" textLength="15.45" lengthAdjust="spacingAndGlyphs" stroke="#000" stroke-width="0.3">WT</text>
<text x="349.07" y="316.1" font-size="10" font-weight="bold" fill="#000" textLength="20.18" lengthAdjust="spacingAndGlyphs" stroke="#000" stroke-width="0.3">IFN-</text>
<text x="368.92" y="315.84" font-size="9.32" font-weight="normal" fill="#000" textLength="3.96" lengthAdjust="spacingAndGlyphs" font-style="italic" stroke="#000" stroke-width="0.2">γ</text>
<text x="375.48" y="311.38" font-size="5.81" font-weight="bold" fill="#000" textLength="7.57" lengthAdjust="spacingAndGlyphs" stroke="#000" stroke-width="0.3">-/-</text>
<text x="291.2" y="285.76" font-size="11.94" font-weight="bold" fill="#000" textLength="86.99" lengthAdjust="spacingAndGlyphs" transform="rotate(-90 291.2 285.76)" stroke="#000" stroke-width="0.3">Donor Foxp3 (%)</text>
<line x1="456.6" y1="287.33" x2="456.6" y2="288.52" stroke="#666" stroke-width="1"/>
<line x1="455.1" y1="287.33" x2="458.1" y2="287.33" stroke="#666" stroke-width="1"/>
<line x1="475.95" y1="209.09" x2="475.95" y2="221.44" stroke="#666" stroke-width="1"/>
<line x1="474.45" y1="209.09" x2="477.45" y2="209.09" stroke="#666" stroke-width="1"/>
<line x1="432" y1="190" x2="432" y2="302.3" stroke="#777" stroke-width="1"/>
<line x1="429" y1="302.3" x2="432" y2="302.3" stroke="#777" stroke-width="1"/>
<text x="424.6" y="305.16" font-size="8" font-weight="normal" text-anchor="end" fill="#2a2a2a" stroke="#2a2a2a" stroke-width="0.2">0</text>
<line x1="429" y1="264.87" x2="432" y2="264.87" stroke="#777" stroke-width="1"/>
<text x="424.6" y="267.73" font-size="8" font-weight="normal" text-anchor="end" fill="#2a2a2a" stroke="#2a2a2a" stroke-width="0.2">50</text>
<line x1="429" y1="227.43" x2="432" y2="227.43" stroke="#777" stroke-width="1"/>
<text x="424.6" y="230.29" font-size="8" font-weight="normal" text-anchor="end" fill="#2a2a2a" stroke="#2a2a2a" stroke-width="0.2">100</text>
<line x1="429" y1="190" x2="432" y2="190" stroke="#777" stroke-width="1"/>
<text x="424.6" y="192.86" font-size="8" font-weight="normal" text-anchor="end" fill="#2a2a2a" stroke="#2a2a2a" stroke-width="0.2">150</text>
<rect x="447" y="288.52" width="19.2" height="13.78" fill="#000"/>
<rect x="466.6" y="221.84" width="18.7" height="80.46" fill="url(#hatch)" stroke="#222" stroke-width="0.8"/>
<line x1="429" y1="302.3" x2="497" y2="302.3" stroke="#333" stroke-width="1.1"/>
<polyline points="456.2,280 456.2,193.8 476.2,193.8 476.2,204" fill="none" stroke="#888" stroke-width="1.3" stroke-linejoin="round"/>
<polygon points="466,185.7 466.74,186.98 468.19,187.29 467.2,188.39 467.35,189.86 466,189.26 464.65,189.86 464.8,188.39 463.81,187.29 465.26,186.98" fill="#111"/>
<text x="445.2" y="316.1" font-size="9.57" font-weight="bold" fill="#000" textLength="14.84" lengthAdjust="spacingAndGlyphs" stroke="#000" stroke-width="0.3">WT</text>
<text x="466.08" y="316.1" font-size="10" font-weight="bold" fill="#000" textLength="19.97" lengthAdjust="spacingAndGlyphs" stroke="#000" stroke-width="0.3">IFN-</text>
<text x="485.34" y="316.01" font-size="9.46" font-weight="normal" fill="#000" textLength="3.85" lengthAdjust="spacingAndGlyphs" font-style="italic" stroke="#000" stroke-width="0.2">γ</text>
<text x="491.28" y="311.38" font-size="5.81" font-weight="bold" fill="#000" textLength="7.57" lengthAdjust="spacingAndGlyphs" stroke="#000" stroke-width="0.3">-/-</text>
<text x="410.2" y="288.81" font-size="12.78" font-weight="bold" fill="#000" textLength="85.84" lengthAdjust="spacingAndGlyphs" transform="rotate(-90 410.2 288.81)" stroke="#000" stroke-width="0.3">Donor Foxp3 (×10</text>
<text x="401" y="203.4" font-size="6.8" font-weight="bold" stroke="#000" stroke-width="0.25" transform="rotate(-90 401 203.4)">4</text>
<text x="408.6" y="198.8" font-size="11" font-weight="bold" stroke="#000" stroke-width="0.25" transform="rotate(-90 408.6 198.8)">)</text>
<text x="62.94" y="331.9" font-size="14.64" font-weight="bold" fill="#000" textLength="9.17" lengthAdjust="spacingAndGlyphs" stroke="#000" stroke-width="0.3">E</text>
<line x1="103.2" y1="325.5" x2="103.2" y2="455" stroke="#444" stroke-width="1"/>
<line x1="101.2" y1="455" x2="103.2" y2="455" stroke="#444" stroke-width="1"/>
<text x="98.4" y="457" font-size="5.6" font-weight="normal" text-anchor="end" fill="#2a2a2a" stroke="#2a2a2a" stroke-width="0.14">0</text>
<line x1="101.2" y1="436.5" x2="103.2" y2="436.5" stroke="#444" stroke-width="1"/>
<text x="98.4" y="438.5" font-size="5.6" font-weight="normal" text-anchor="end" fill="#2a2a2a" stroke="#2a2a2a" stroke-width="0.14">0.5</text>
<line x1="101.2" y1="418" x2="103.2" y2="418" stroke="#444" stroke-width="1"/>
<text x="98.4" y="420" font-size="5.6" font-weight="normal" text-anchor="end" fill="#2a2a2a" stroke="#2a2a2a" stroke-width="0.14">1</text>
<line x1="101.2" y1="399.5" x2="103.2" y2="399.5" stroke="#444" stroke-width="1"/>
<text x="98.4" y="401.5" font-size="5.6" font-weight="normal" text-anchor="end" fill="#2a2a2a" stroke="#2a2a2a" stroke-width="0.14">1.5</text>
<line x1="101.2" y1="381" x2="103.2" y2="381" stroke="#444" stroke-width="1"/>
<text x="98.4" y="383" font-size="5.6" font-weight="normal" text-anchor="end" fill="#2a2a2a" stroke="#2a2a2a" stroke-width="0.14">2</text>
<line x1="101.2" y1="362.5" x2="103.2" y2="362.5" stroke="#444" stroke-width="1"/>
<text x="98.4" y="364.5" font-size="5.6" font-weight="normal" text-anchor="end" fill="#2a2a2a" stroke="#2a2a2a" stroke-width="0.14">2.5</text>
<line x1="101.2" y1="344" x2="103.2" y2="344" stroke="#444" stroke-width="1"/>
<text x="98.4" y="346" font-size="5.6" font-weight="normal" text-anchor="end" fill="#2a2a2a" stroke="#2a2a2a" stroke-width="0.14">3</text>
<line x1="101.2" y1="325.5" x2="103.2" y2="325.5" stroke="#444" stroke-width="1"/>
<text x="98.4" y="327.5" font-size="5.6" font-weight="normal" text-anchor="end" fill="#2a2a2a" stroke="#2a2a2a" stroke-width="0.14">3.5</text>
<line x1="103.2" y1="455" x2="272" y2="455" stroke="#222" stroke-width="1.1"/>
<line x1="103.2" y1="455" x2="103.2" y2="457" stroke="#444" stroke-width="0.8"/>
<text x="103.2" y="464.3" font-size="5.6" font-weight="normal" text-anchor="middle" fill="#2a2a2a" stroke="#222" stroke-width="0.28">0</text>
<line x1="120.03" y1="455" x2="120.03" y2="457" stroke="#444" stroke-width="0.8"/>
<text x="120.03" y="464.3" font-size="5.6" font-weight="normal" text-anchor="middle" fill="#2a2a2a" stroke="#222" stroke-width="0.28">3</text>
<line x1="136.86" y1="455" x2="136.86" y2="457" stroke="#444" stroke-width="0.8"/>
<text x="136.86" y="464.3" font-size="5.6" font-weight="normal" text-anchor="middle" fill="#2a2a2a" stroke="#222" stroke-width="0.28">6</text>
<line x1="153.69" y1="455" x2="153.69" y2="457" stroke="#444" stroke-width="0.8"/>
<text x="153.69" y="464.3" font-size="5.6" font-weight="normal" text-anchor="middle" fill="#2a2a2a" stroke="#222" stroke-width="0.28">9</text>
<line x1="170.52" y1="455" x2="170.52" y2="457" stroke="#444" stroke-width="0.8"/>
<text x="170.52" y="464.3" font-size="5.6" font-weight="normal" text-anchor="middle" fill="#2a2a2a" stroke="#222" stroke-width="0.28">12</text>
<line x1="187.35" y1="455" x2="187.35" y2="457" stroke="#444" stroke-width="0.8"/>
<text x="187.35" y="464.3" font-size="5.6" font-weight="normal" text-anchor="middle" fill="#2a2a2a" stroke="#222" stroke-width="0.28">15</text>
<line x1="204.18" y1="455" x2="204.18" y2="457" stroke="#444" stroke-width="0.8"/>
<text x="204.18" y="464.3" font-size="5.6" font-weight="normal" text-anchor="middle" fill="#2a2a2a" stroke="#222" stroke-width="0.28">18</text>
<line x1="221.01" y1="455" x2="221.01" y2="457" stroke="#444" stroke-width="0.8"/>
<text x="221.01" y="464.3" font-size="5.6" font-weight="normal" text-anchor="middle" fill="#2a2a2a" stroke="#222" stroke-width="0.28">21</text>
<line x1="237.84" y1="455" x2="237.84" y2="457" stroke="#444" stroke-width="0.8"/>
<text x="237.84" y="464.3" font-size="5.6" font-weight="normal" text-anchor="middle" fill="#2a2a2a" stroke="#222" stroke-width="0.28">24</text>
<line x1="254.67" y1="455" x2="254.67" y2="457" stroke="#444" stroke-width="0.8"/>
<text x="254.67" y="464.3" font-size="5.6" font-weight="normal" text-anchor="middle" fill="#2a2a2a" stroke="#222" stroke-width="0.28">27</text>
<line x1="271.5" y1="455" x2="271.5" y2="457" stroke="#444" stroke-width="0.8"/>
<text x="271.5" y="464.3" font-size="5.6" font-weight="normal" text-anchor="middle" fill="#2a2a2a" stroke="#222" stroke-width="0.28">30</text>
<text x="148.95" y="477" font-size="9.86" font-weight="bold" fill="#000" textLength="78.46" lengthAdjust="spacingAndGlyphs" stroke="#000" stroke-width="0.3">Days after BMT</text>
<text x="79.9" y="422.59" font-size="13.47" font-weight="bold" fill="#000" textLength="65.58" lengthAdjust="spacingAndGlyphs" transform="rotate(-90 79.9 422.59)" stroke="#000" stroke-width="0.3">Skin score</text>
<line x1="204.18" y1="427.25" x2="204.18" y2="432.8" stroke="#777" stroke-width="1"/>
<line x1="202.68" y1="427.25" x2="205.68" y2="427.25" stroke="#777" stroke-width="1"/>
<line x1="237.84" y1="372.49" x2="237.84" y2="381.74" stroke="#777" stroke-width="1"/>
<line x1="236.34" y1="372.49" x2="239.34" y2="372.49" stroke="#777" stroke-width="1"/>
<line x1="254.67" y1="361.39" x2="254.67" y2="372.49" stroke="#777" stroke-width="1"/>
<line x1="253.17" y1="361.39" x2="256.17" y2="361.39" stroke="#777" stroke-width="1"/>
<line x1="271.5" y1="345.85" x2="271.5" y2="360.65" stroke="#777" stroke-width="1"/>
<line x1="270" y1="345.85" x2="273" y2="345.85" stroke="#777" stroke-width="1"/>
<line x1="221.01" y1="425.77" x2="221.01" y2="429.47" stroke="#777" stroke-width="1"/>
<line x1="219.51" y1="425.77" x2="222.51" y2="425.77" stroke="#777" stroke-width="1"/>
<line x1="237.84" y1="388.77" x2="237.84" y2="394.32" stroke="#777" stroke-width="1"/>
<line x1="236.34" y1="388.77" x2="239.34" y2="388.77" stroke="#777" stroke-width="1"/>
<line x1="254.67" y1="370.27" x2="254.67" y2="377.67" stroke="#777" stroke-width="1"/>
<line x1="253.17" y1="370.27" x2="256.17" y2="370.27" stroke="#777" stroke-width="1"/>
<line x1="271.5" y1="366.94" x2="271.5" y2="376.19" stroke="#777" stroke-width="1"/>
<line x1="270" y1="366.94" x2="273" y2="366.94" stroke="#777" stroke-width="1"/>
<line x1="237.84" y1="392.84" x2="237.84" y2="400.24" stroke="#777" stroke-width="1"/>
<line x1="236.34" y1="392.84" x2="239.34" y2="392.84" stroke="#777" stroke-width="1"/>
<line x1="254.67" y1="398.02" x2="254.67" y2="403.57" stroke="#777" stroke-width="1"/>
<line x1="253.17" y1="398.02" x2="256.17" y2="398.02" stroke="#777" stroke-width="1"/>
<line x1="271.5" y1="406.9" x2="271.5" y2="394.69" stroke="#777" stroke-width="1"/>
<line x1="270" y1="406.9" x2="273" y2="406.9" stroke="#777" stroke-width="1"/>
<line x1="237.84" y1="431.32" x2="237.84" y2="435.02" stroke="#777" stroke-width="1"/>
<line x1="236.34" y1="431.32" x2="239.34" y2="431.32" stroke="#777" stroke-width="1"/>
<line x1="254.67" y1="419.67" x2="254.67" y2="422.62" stroke="#777" stroke-width="1"/>
<line x1="253.17" y1="419.67" x2="256.17" y2="419.67" stroke="#777" stroke-width="1"/>
<line x1="271.5" y1="420.4" x2="271.5" y2="422.62" stroke="#777" stroke-width="1"/>
<line x1="270" y1="420.4" x2="273" y2="420.4" stroke="#777" stroke-width="1"/>
<polyline points="187.35,455 204.18,432.8 221.01,414.3 237.84,381.74 254.67,372.49 271.5,360.65" fill="none" stroke="#000" stroke-width="1.2" stroke-linejoin="round"/>
<polyline points="187.35,455 204.18,447.97 221.01,429.47 237.84,394.32 254.67,377.67 271.5,376.19" fill="none" stroke="#000" stroke-width="1.2" stroke-linejoin="round"/>
<polyline points="187.35,455 204.18,441.68 221.01,424.29 237.84,400.24 254.67,403.57 271.5,394.69" fill="none" stroke="#000" stroke-width="1.2" stroke-linejoin="round"/>
<polyline points="187.35,455 204.18,455 221.01,455 237.84,435.02 254.67,422.62 271.5,422.62" fill="none" stroke="#000" stroke-width="1.2" stroke-linejoin="round"/>
<circle cx="103.2" cy="455" r="2.3" fill="#000"/>
<circle cx="120.03" cy="455" r="2.3" fill="#000"/>
<circle cx="136.86" cy="455" r="2.3" fill="#000"/>
<circle cx="153.69" cy="455" r="2.3" fill="#000"/>
<circle cx="170.52" cy="455" r="2.3" fill="#000"/>
<circle cx="187.35" cy="455" r="2.3" fill="#000"/>
<circle cx="204.18" cy="432.8" r="2.2" fill="#fff" stroke="#000" stroke-width="0.8"/>
<circle cx="204.18" cy="447.97" r="2.4" fill="#000"/>
<polygon points="204.18,439.2 201.88,443.2 206.48,443.2" fill="#fff" stroke="#000" stroke-width="0.8"/>
<polygon points="204.18,452.4 201.77,456.6 206.59,456.6" fill="#000"/>
<circle cx="221.01" cy="414.3" r="2.2" fill="#fff" stroke="#000" stroke-width="0.8"/>
<circle cx="221.01" cy="429.47" r="2.4" fill="#000"/>
<polygon points="221.01,421.81 218.71,425.81 223.31,425.81" fill="#fff" stroke="#000" stroke-width="0.8"/>
<polygon points="221.01,452.4 218.59,456.6 223.42,456.6" fill="#000"/>
<circle cx="237.84" cy="381.74" r="2.2" fill="#fff" stroke="#000" stroke-width="0.8"/>
<circle cx="237.84" cy="394.32" r="2.4" fill="#000"/>
<polygon points="237.84,397.76 235.54,401.76 240.14,401.76" fill="#fff" stroke="#000" stroke-width="0.8"/>
<polygon points="237.84,432.42 235.42,436.62 240.25,436.62" fill="#000"/>
<circle cx="254.67" cy="372.49" r="2.2" fill="#fff" stroke="#000" stroke-width="0.8"/>
<circle cx="254.67" cy="377.67" r="2.4" fill="#000"/>
<polygon points="254.67,401.09 252.37,405.09 256.97,405.09" fill="#fff" stroke="#000" stroke-width="0.8"/>
<polygon points="254.67,420.02 252.25,424.22 257.08,424.22" fill="#000"/>
<circle cx="271.5" cy="360.65" r="2.2" fill="#fff" stroke="#000" stroke-width="0.8"/>
<circle cx="271.5" cy="376.19" r="2.4" fill="#000"/>
<polygon points="271.5,392.21 269.2,396.21 273.8,396.21" fill="#fff" stroke="#000" stroke-width="0.8"/>
<polygon points="271.5,420.02 269.08,424.22 273.92,424.22" fill="#000"/>
<polyline points="279,378.2 283.5,378.2 283.5,393.5 279,393.5" fill="none" stroke="#333" stroke-width="1" stroke-linejoin="round"/>
<polyline points="279,397.5 283.5,397.5 283.5,422 279,422" fill="none" stroke="#333" stroke-width="1" stroke-linejoin="round"/>
<polygon points="287.8,384.9 288.48,386.07 289.8,386.35 288.9,387.36 289.03,388.7 287.8,388.15 286.57,388.7 286.7,387.36 285.8,386.35 287.12,386.07" fill="#111"/>
<polygon points="287.8,407.1 288.48,408.27 289.8,408.55 288.9,409.56 289.03,410.9 287.8,410.35 286.57,410.9 286.7,409.56 285.8,408.55 287.12,408.27" fill="#111"/>
<line x1="303" y1="367.5" x2="343" y2="367.5" stroke="#111" stroke-width="1.2"/>
<circle cx="324" cy="367.5" r="2.6" fill="#000"/>
<line x1="303" y1="384.5" x2="343" y2="384.5" stroke="#111" stroke-width="1.2"/>
<circle cx="324" cy="384.5" r="2.6" fill="#fff" stroke="#000" stroke-width="0.9"/>
<line x1="303" y1="401.5" x2="343" y2="401.5" stroke="#111" stroke-width="1.2"/>
<polygon points="324,398.28 321.01,403.48 326.99,403.48" fill="#000"/>
<line x1="303" y1="419.5" x2="343" y2="419.5" stroke="#111" stroke-width="1.2"/>
<polygon points="324,416.28 321.01,421.48 326.99,421.48" fill="#fff" stroke="#000" stroke-width="0.9"/>
<text x="355.8" y="371.5" font-size="9.71" font-weight="bold" fill="#000" textLength="15.14" lengthAdjust="spacingAndGlyphs" stroke="#000" stroke-width="0.3">WT</text>
<text x="354.79" y="388.2" font-size="9.58" font-weight="bold" fill="#000" textLength="89.94" lengthAdjust="spacingAndGlyphs" stroke="#000" stroke-width="0.3">CD25-depleted WT</text>
<text x="354.05" y="406" font-size="9.28" font-weight="bold" fill="#000" textLength="20.92" lengthAdjust="spacingAndGlyphs" stroke="#000" stroke-width="0.3">IFN-</text>
<text x="374.3" y="406.65" font-size="7.84" font-weight="normal" fill="#000" textLength="4.17" lengthAdjust="spacingAndGlyphs" font-style="italic" stroke="#000" stroke-width="0.2">γ</text>
<text x="379" y="401.76" font-size="7.03" font-weight="bold" fill="#000" textLength="9.44" lengthAdjust="spacingAndGlyphs" stroke="#000" stroke-width="0.3">-/-</text>
<text x="353.59" y="423.3" font-size="9.31" font-weight="bold" fill="#000" textLength="94.34" lengthAdjust="spacingAndGlyphs" stroke="#000" stroke-width="0.3">CD25-depleted IFN-</text>
<text x="447.53" y="423.04" font-size="9.32" font-weight="normal" fill="#000" textLength="4.79" lengthAdjust="spacingAndGlyphs" font-style="italic" stroke="#000" stroke-width="0.2">γ</text>
<text x="454.6" y="420.28" font-size="6.22" font-weight="bold" fill="#000" textLength="9.55" lengthAdjust="spacingAndGlyphs" stroke="#000" stroke-width="0.3">-/-</text>
<text x="22.16" y="496.4" font-size="14.93" font-weight="bold" fill="#000" textLength="9.04" lengthAdjust="spacingAndGlyphs" stroke="#000" stroke-width="0.3">F</text>
<line x1="58.4" y1="491.3" x2="58.4" y2="618.3" stroke="#444" stroke-width="1"/>
<line x1="56.4" y1="618.3" x2="58.4" y2="618.3" stroke="#444" stroke-width="1"/>
<text x="53.4" y="620.52" font-size="6.2" font-weight="normal" text-anchor="end" fill="#2a2a2a" stroke="#2a2a2a" stroke-width="0.16">0</text>
<line x1="56.4" y1="600.16" x2="58.4" y2="600.16" stroke="#444" stroke-width="1"/>
<text x="53.4" y="602.38" font-size="6.2" font-weight="normal" text-anchor="end" fill="#2a2a2a" stroke="#2a2a2a" stroke-width="0.16">0.5</text>
<line x1="56.4" y1="582.01" x2="58.4" y2="582.01" stroke="#444" stroke-width="1"/>
<text x="53.4" y="584.23" font-size="6.2" font-weight="normal" text-anchor="end" fill="#2a2a2a" stroke="#2a2a2a" stroke-width="0.16">1</text>
<line x1="56.4" y1="563.87" x2="58.4" y2="563.87" stroke="#444" stroke-width="1"/>
<text x="53.4" y="566.09" font-size="6.2" font-weight="normal" text-anchor="end" fill="#2a2a2a" stroke="#2a2a2a" stroke-width="0.16">1.5</text>
<line x1="56.4" y1="545.73" x2="58.4" y2="545.73" stroke="#444" stroke-width="1"/>
<text x="53.4" y="547.95" font-size="6.2" font-weight="normal" text-anchor="end" fill="#2a2a2a" stroke="#2a2a2a" stroke-width="0.16">2</text>
<line x1="56.4" y1="527.59" x2="58.4" y2="527.59" stroke="#444" stroke-width="1"/>
<text x="53.4" y="529.81" font-size="6.2" font-weight="normal" text-anchor="end" fill="#2a2a2a" stroke="#2a2a2a" stroke-width="0.16">2.5</text>
<line x1="56.4" y1="509.44" x2="58.4" y2="509.44" stroke="#444" stroke-width="1"/>
<text x="53.4" y="511.66" font-size="6.2" font-weight="normal" text-anchor="end" fill="#2a2a2a" stroke="#2a2a2a" stroke-width="0.16">3</text>
<line x1="56.4" y1="491.3" x2="58.4" y2="491.3" stroke="#444" stroke-width="1"/>
<text x="53.4" y="493.52" font-size="6.2" font-weight="normal" text-anchor="end" fill="#2a2a2a" stroke="#2a2a2a" stroke-width="0.16">3.5</text>
<line x1="58.4" y1="618.3" x2="228" y2="618.3" stroke="#222" stroke-width="1.1"/>
<text x="58.4" y="630" font-size="6.2" font-weight="normal" text-anchor="middle" fill="#2a2a2a" stroke="#222" stroke-width="0.28">0</text>
<text x="73.45" y="630" font-size="6.2" font-weight="normal" text-anchor="middle" fill="#2a2a2a" stroke="#222" stroke-width="0.28">2</text>
<text x="88.5" y="630" font-size="6.2" font-weight="normal" text-anchor="middle" fill="#2a2a2a" stroke="#222" stroke-width="0.28">4</text>
<text x="103.55" y="630" font-size="6.2" font-weight="normal" text-anchor="middle" fill="#2a2a2a" stroke="#222" stroke-width="0.28">6</text>
<text x="118.6" y="630" font-size="6.2" font-weight="normal" text-anchor="middle" fill="#2a2a2a" stroke="#222" stroke-width="0.28">8</text>
<text x="133.65" y="630" font-size="6.2" font-weight="normal" text-anchor="middle" fill="#2a2a2a" stroke="#222" stroke-width="0.28">12</text>
<text x="148.7" y="630" font-size="6.2" font-weight="normal" text-anchor="middle" fill="#2a2a2a" stroke="#222" stroke-width="0.28">14</text>
<text x="163.75" y="630" font-size="6.2" font-weight="normal" text-anchor="middle" fill="#2a2a2a" stroke="#222" stroke-width="0.28">19</text>
<text x="178.8" y="630" font-size="6.2" font-weight="normal" text-anchor="middle" fill="#2a2a2a" stroke="#222" stroke-width="0.28">22</text>
<text x="193.85" y="630" font-size="6.2" font-weight="normal" text-anchor="middle" fill="#2a2a2a" stroke="#222" stroke-width="0.28">27</text>
<text x="208.9" y="630" font-size="6.2" font-weight="normal" text-anchor="middle" fill="#2a2a2a" stroke="#222" stroke-width="0.28">30</text>
<text x="223.95" y="630" font-size="6.2" font-weight="normal" text-anchor="middle" fill="#2a2a2a" stroke="#222" stroke-width="0.28">33</text>
<text x="102.05" y="639.5" font-size="10.28" font-weight="bold" fill="#000" textLength="77.85" lengthAdjust="spacingAndGlyphs" stroke="#000" stroke-width="0.3">Days after BMT</text>
<text x="39.7" y="585.58" font-size="13.19" font-weight="bold" fill="#000" textLength="65.88" lengthAdjust="spacingAndGlyphs" transform="rotate(-90 39.7 585.58)" stroke="#000" stroke-width="0.3">Skin Score</text>
<line x1="65.5" y1="498.5" x2="105" y2="498.5" stroke="#111" stroke-width="1.4"/>
<circle cx="85" cy="498.5" r="2.8" fill="#fff" stroke="#000" stroke-width="0.9"/>
<line x1="65.5" y1="515.5" x2="105" y2="515.5" stroke="#111" stroke-width="1.4"/>
<circle cx="85" cy="515.5" r="2.6" fill="#000"/>
<line x1="65.5" y1="531.5" x2="105" y2="531.5" stroke="#111" stroke-width="1.4"/>
<polygon points="85,528.28 82.01,533.48 87.99,533.48" fill="#000"/>
<text x="110.9" y="500.4" font-size="9.17" font-weight="bold" fill="#000" textLength="50.52" lengthAdjust="spacingAndGlyphs" stroke="#000" stroke-width="0.3">Syngeneic</text>
<text x="110.8" y="517.5" font-size="9.57" font-weight="bold" fill="#000" textLength="62.5" lengthAdjust="spacingAndGlyphs" stroke="#000" stroke-width="0.3">WT + Rat IgG</text>
<text x="110.8" y="534.2" font-size="9.42" font-weight="bold" fill="#000" textLength="46.18" lengthAdjust="spacingAndGlyphs" stroke="#000" stroke-width="0.3">WT + IFN-</text>
<text x="156.55" y="535.1" font-size="10" font-weight="normal" fill="#000" textLength="3.75" lengthAdjust="spacingAndGlyphs" font-style="italic" stroke="#000" stroke-width="0.2">γ</text>
<text x="160.51" y="534.2" font-size="9.03" font-weight="bold" fill="#000" textLength="21.8" lengthAdjust="spacingAndGlyphs" stroke="#000" stroke-width="0.3">mAb</text>
<line x1="163.75" y1="601.61" x2="163.75" y2="616.85" stroke="#777" stroke-width="1"/>
<line x1="162.25" y1="601.61" x2="165.25" y2="601.61" stroke="#777" stroke-width="1"/>
<line x1="178.8" y1="583.1" x2="178.8" y2="599.07" stroke="#777" stroke-width="1"/>
<line x1="177.3" y1="583.1" x2="180.3" y2="583.1" stroke="#777" stroke-width="1"/>
<line x1="193.85" y1="551.53" x2="193.85" y2="583.47" stroke="#777" stroke-width="1"/>
<line x1="192.35" y1="551.53" x2="195.35" y2="551.53" stroke="#777" stroke-width="1"/>
<line x1="208.9" y1="537.75" x2="208.9" y2="574.76" stroke="#777" stroke-width="1"/>
<line x1="207.4" y1="537.75" x2="210.4" y2="537.75" stroke="#777" stroke-width="1"/>
<line x1="223.95" y1="509.08" x2="223.95" y2="556.25" stroke="#777" stroke-width="1"/>
<line x1="222.45" y1="509.08" x2="225.45" y2="509.08" stroke="#777" stroke-width="1"/>
<line x1="163.75" y1="610.32" x2="163.75" y2="613.22" stroke="#777" stroke-width="1"/>
<line x1="162.25" y1="610.32" x2="165.25" y2="610.32" stroke="#777" stroke-width="1"/>
<line x1="178.8" y1="613.22" x2="178.8" y2="616.12" stroke="#777" stroke-width="1"/>
<line x1="177.3" y1="613.22" x2="180.3" y2="613.22" stroke="#777" stroke-width="1"/>
<line x1="193.85" y1="610.32" x2="193.85" y2="613.22" stroke="#777" stroke-width="1"/>
<line x1="192.35" y1="610.32" x2="195.35" y2="610.32" stroke="#777" stroke-width="1"/>
<line x1="208.9" y1="613.22" x2="208.9" y2="616.12" stroke="#777" stroke-width="1"/>
<line x1="207.4" y1="613.22" x2="210.4" y2="613.22" stroke="#777" stroke-width="1"/>
<line x1="223.95" y1="613.22" x2="223.95" y2="616.12" stroke="#777" stroke-width="1"/>
<line x1="222.45" y1="613.22" x2="225.45" y2="613.22" stroke="#777" stroke-width="1"/>
<polyline points="58.4,618.3 73.45,618.3 88.5,618.3 103.55,618.3 118.6,618.3 133.65,618.3 148.7,618.3 163.75,609.23 178.8,591.09 193.85,567.5 208.9,556.25 223.95,532.67" fill="none" stroke="#000" stroke-width="1.3" stroke-linejoin="round"/>
<polyline points="58.4,618.3 73.45,618.3 88.5,618.3 103.55,618.3 118.6,618.3 133.65,618.3 148.7,618.3 163.75,613.22 178.8,616.12 193.85,613.22 208.9,616.12 223.95,616.12" fill="none" stroke="#000" stroke-width="1.2" stroke-linejoin="round"/>
<circle cx="163.75" cy="618.3" r="2.3" fill="none" stroke="#888" stroke-width="0.8"/>
<circle cx="178.8" cy="618.3" r="2.3" fill="none" stroke="#888" stroke-width="0.8"/>
<circle cx="193.85" cy="618.3" r="2.3" fill="none" stroke="#888" stroke-width="0.8"/>
<circle cx="208.9" cy="618.3" r="2.3" fill="none" stroke="#888" stroke-width="0.8"/>
<circle cx="223.95" cy="618.3" r="2.3" fill="none" stroke="#888" stroke-width="0.8"/>
<circle cx="58.4" cy="618.3" r="2.6" fill="#000"/>
<circle cx="73.45" cy="618.3" r="2.6" fill="#000"/>
<circle cx="88.5" cy="618.3" r="2.6" fill="#000"/>
<circle cx="103.55" cy="618.3" r="2.6" fill="#000"/>
<circle cx="118.6" cy="618.3" r="2.6" fill="#000"/>
<circle cx="133.65" cy="618.3" r="2.6" fill="#000"/>
<circle cx="148.7" cy="618.3" r="2.6" fill="#000"/>
<circle cx="163.75" cy="609.23" r="2.6" fill="#000"/>
<circle cx="178.8" cy="591.09" r="2.6" fill="#000"/>
<circle cx="193.85" cy="567.5" r="2.6" fill="#000"/>
<circle cx="208.9" cy="556.25" r="2.6" fill="#000"/>
<circle cx="223.95" cy="532.67" r="2.6" fill="#000"/>
<polygon points="163.75,610.37 161.1,614.97 166.4,614.97" fill="#000"/>
<polygon points="178.8,613.27 176.16,617.87 181.45,617.87" fill="#000"/>
<polygon points="193.85,610.37 191.21,614.97 196.5,614.97" fill="#000"/>
<polygon points="208.9,613.27 206.25,617.87 211.55,617.87" fill="#000"/>
<polygon points="223.95,613.27 221.31,617.87 226.6,617.87" fill="#000"/>
<polygon points="224,561.2 224.74,562.48 226.19,562.79 225.2,563.89 225.35,565.36 224,564.76 222.65,565.36 222.8,563.89 221.81,562.79 223.26,562.48" fill="#111"/>
<text x="245.12" y="496.3" font-size="14.43" font-weight="bold" fill="#000" textLength="11.21" lengthAdjust="spacingAndGlyphs" stroke="#000" stroke-width="0.3">G</text>
<text x="324.28" y="499.5" font-size="10.14" font-weight="bold" fill="#000" textLength="22.69" lengthAdjust="spacingAndGlyphs" stroke="#000" stroke-width="0.3">Skin</text>
<text x="258.43" y="542.2" font-size="10.14" font-weight="bold" fill="#000" textLength="39.08" lengthAdjust="spacingAndGlyphs" stroke="#000" stroke-width="0.3">Rat IgG</text>
<text x="248.23" y="601.5" font-size="10" font-weight="bold" fill="#000" textLength="21.24" lengthAdjust="spacingAndGlyphs" stroke="#000" stroke-width="0.3">IFN-</text>
<text x="269.59" y="602.01" font-size="8.51" font-weight="normal" fill="#000" textLength="4.27" lengthAdjust="spacingAndGlyphs" font-style="italic" stroke="#000" stroke-width="0.2">γ</text>
<text x="273.65" y="601.5" font-size="9.58" font-weight="bold" fill="#000" textLength="23.8" lengthAdjust="spacingAndGlyphs" stroke="#000" stroke-width="0.3">mAb</text>
<clipPath id="cl5"><rect x="0" y="0" width="70.1" height="52.6"/></clipPath>
<g transform="translate(300.3 511.9)" clip-path="url(#cl5)">
<g filter="url(#imgblur)">
<rect x="-1" y="-1" width="72.1" height="54.6" fill="#d9d7df"/>
<path d="M-1,7 C-0.17,7.25 2.33,7.92 4,8.5 C5.67,9.08 7.5,9.67 9,10.5 C10.5,11.33 11.85,12.72 13,13.5 C14.15,14.28 14.98,16.12 15.9,15.2 C16.82,14.28 17.58,10.33 18.5,8 C19.42,5.67 20.53,2.5 21.4,1.2 C22.27,-0.1 22.85,-0.35 23.7,0.2 C24.55,0.75 25.45,2.78 26.5,4.5 C27.55,6.22 28.9,8.72 30,10.5 C31.1,12.28 32.18,15.37 33.1,15.2 C34.02,15.03 34.73,11.1 35.5,9.5 C36.27,7.9 36.55,6.38 37.7,5.6 C38.85,4.82 40.58,4.68 42.4,4.8 C44.22,4.92 46.27,5.65 48.6,6.3 C50.93,6.95 54.07,7.68 56.4,8.7 C58.73,9.72 61,12.1 62.6,12.4 C64.2,12.7 64.6,11.12 66,10.5 C67.4,9.88 70.17,9 71,8.7 L71.1,53.6 L0,53.6 Z" fill="#bf82c7"/>
<path d="M-1,33 C1.17,33.17 7.67,33.5 12,34 C16.33,34.5 20.33,36 25,36 C29.67,36 35,34 40,34 C45,34 49.83,35.83 55,36 C60.17,36.17 68.33,35.17 71,35 L71.1,53.6 L0,53.6 Z" fill="#dccfe5"/>
<path d="M1,37 C2.17,37.33 5.5,38.92 8,39 C10.5,39.08 13.33,37.33 16,37.5 C18.67,37.67 21.33,39.75 24,40 C26.67,40.25 30.67,39.17 32,39" fill="none" stroke="#94709f" stroke-width="1" stroke-linecap="round"/>
<path d="M2,43 C3.33,43.33 7.33,44.83 10,45 C12.67,45.17 15,43.67 18,44 C21,44.33 24.67,46.67 28,47 C31.33,47.33 36.33,46.17 38,46" fill="none" stroke="#9a74ad" stroke-width="1" stroke-linecap="round"/>
<path d="M30,40 C31.67,40.5 36.67,42.75 40,43 C43.33,43.25 46.33,41.5 50,41.5 C53.67,41.5 58.5,42.92 62,43 C65.5,43.08 69.5,42.17 71,42" fill="none" stroke="#9a74ad" stroke-width="1" stroke-linecap="round"/>
<path d="M36,48 C37.67,48.33 42.67,49.92 46,50 C49.33,50.08 52,48.5 56,48.5 C60,48.5 67.67,49.75 70,50" fill="none" stroke="#a07ab6" stroke-width="1" stroke-linecap="round"/>
<path d="M0,50 C2,50.17 8,51 12,51 C16,51 22,50.17 24,50" fill="none" stroke="#a888c0" stroke-width="1" stroke-linecap="round"/>
<path d="M4,33 C5.67,33.33 11,34.83 14,35 C17,35.17 20.67,34.17 22,34" fill="none" stroke="#a080b4" stroke-width="0.9" stroke-linecap="round"/>
<rect x="0" y="0" width="70.1" height="52.6" filter="url(#spkD1)" opacity="0.45"/>
<rect x="0" y="0" width="70.1" height="52.6" filter="url(#spkL1)" opacity="0.35"/>
<path d="M-1,7 C-0.17,7.25 2.33,7.92 4,8.5 C5.67,9.08 7.5,9.67 9,10.5 C10.5,11.33 11.85,12.72 13,13.5 C14.15,14.28 14.98,16.12 15.9,15.2 C16.82,14.28 17.58,10.33 18.5,8 C19.42,5.67 20.53,2.5 21.4,1.2 C22.27,-0.1 22.85,-0.35 23.7,0.2 C24.55,0.75 25.45,2.78 26.5,4.5 C27.55,6.22 28.9,8.72 30,10.5 C31.1,12.28 32.18,15.37 33.1,15.2 C34.02,15.03 34.73,11.1 35.5,9.5 C36.27,7.9 36.55,6.38 37.7,5.6 C38.85,4.82 40.58,4.68 42.4,4.8 C44.22,4.92 46.27,5.65 48.6,6.3 C50.93,6.95 54.07,7.68 56.4,8.7 C58.73,9.72 61,12.1 62.6,12.4 C64.2,12.7 64.6,11.12 66,10.5 C67.4,9.88 70.17,9 71,8.7 L72.1,-2 L-2,-2 Z" fill="#d9d7df"/>
<path d="M-1,7 C-0.17,7.25 2.33,7.92 4,8.5 C5.67,9.08 7.5,9.67 9,10.5 C10.5,11.33 11.85,12.72 13,13.5 C14.15,14.28 14.98,16.12 15.9,15.2 C16.82,14.28 17.58,10.33 18.5,8 C19.42,5.67 20.53,2.5 21.4,1.2 C22.27,-0.1 22.85,-0.35 23.7,0.2 C24.55,0.75 25.45,2.78 26.5,4.5 C27.55,6.22 28.9,8.72 30,10.5 C31.1,12.28 32.18,15.37 33.1,15.2 C34.02,15.03 34.73,11.1 35.5,9.5 C36.27,7.9 36.55,6.38 37.7,5.6 C38.85,4.82 40.58,4.68 42.4,4.8 C44.22,4.92 46.27,5.65 48.6,6.3 C50.93,6.95 54.07,7.68 56.4,8.7 C58.73,9.72 61,12.1 62.6,12.4 C64.2,12.7 64.6,11.12 66,10.5 C67.4,9.88 70.17,9 71,8.7 L71,12.6 C70.17,12.9 67.4,13.78 66,14.4 C64.6,15.02 64.2,16.6 62.6,16.3 C61,16 58.73,13.62 56.4,12.6 C54.07,11.58 50.93,10.85 48.6,10.2 C46.27,9.55 44.22,8.82 42.4,8.7 C40.58,8.58 38.85,8.72 37.7,9.5 C36.55,10.28 36.27,11.8 35.5,13.4 C34.73,15 34.02,18.93 33.1,19.1 C32.18,19.27 31.1,16.18 30,14.4 C28.9,12.62 27.55,10.12 26.5,8.4 C25.45,6.68 24.55,4.65 23.7,4.1 C22.85,3.55 22.27,3.8 21.4,5.1 C20.53,6.4 19.42,9.57 18.5,11.9 C17.58,14.23 16.82,18.18 15.9,19.1 C14.98,20.02 14.15,18.18 13,17.4 C11.85,16.62 10.5,15.23 9,14.4 C7.5,13.57 5.67,12.98 4,12.4 C2.33,11.82 -0.17,11.15 -1,10.9 Z" fill="#6a2a98"/>
<path d="M18.5,8 C20,3 22,0.5 23.7,0.5 C26,2 28,8 31,14 C28,18 22,19 17,15 Z" fill="#6a2a98" opacity="0.55"/>
<path d="M30.75,14 C30.98,17.3 31.65,20 33,20 C34.35,20 35.02,17.3 35.25,14 Z" fill="#6a2a98" opacity="1"/>
<path d="M14,14 C14.2,16.6 14.8,19 16,19 C17.2,19 17.8,16.6 18,14 Z" fill="#6a2a98" opacity="1"/>
<path d="M60,12 C60.2,15.6 60.8,18 62,18 C63.2,18 63.8,15.6 64,12 Z" fill="#6a2a98" opacity="1"/>
<circle cx="12" cy="19" r="2.3" fill="none" stroke="#7a3a9a" stroke-width="1.3"/>
<circle cx="37" cy="24" r="2.3" fill="none" stroke="#7a3a9a" stroke-width="1.3"/>
<circle cx="53" cy="22" r="1.7" fill="#7a3a9a"/>
<circle cx="24" cy="18" r="1.5" fill="#7a3a9a"/>
<circle cx="8" cy="26" r="1.4" fill="#7a3a9a"/>
<circle cx="64" cy="18" r="1.4" fill="#7a3a9a"/>
</g>
</g>
<clipPath id="cl6"><rect x="0" y="0" width="70.1" height="52.5"/></clipPath>
<g transform="translate(300.3 572.7)" clip-path="url(#cl6)">
<g filter="url(#imgblur)">
<rect x="-1" y="-1" width="72.1" height="54.5" fill="#d9d7df"/>
<path d="M-1,5.5 C0,5.23 3.23,4.3 5,3.9 C6.77,3.5 8.05,2.97 9.6,3.1 C11.15,3.23 12.75,4.3 14.3,4.7 C15.85,5.1 17.6,4.6 18.9,5.5 C20.2,6.4 20.8,9.45 22.1,10.1 C23.4,10.75 25.15,9.65 26.7,9.4 C28.25,9.15 29.83,8.87 31.4,8.6 C32.97,8.33 34.55,8.07 36.1,7.8 C37.65,7.53 39.15,7.38 40.7,7 C42.25,6.62 44.1,5.88 45.4,5.5 C46.7,5.12 47.2,4.7 48.5,4.7 C49.8,4.7 51.63,5.5 53.2,5.5 C54.77,5.5 56.08,4.9 57.9,4.7 C59.72,4.5 61.92,4.37 64.1,4.3 C66.28,4.23 69.85,4.3 71,4.3 L71.1,53.5 L0,53.5 Z" fill="#bf86ca"/>
<path d="M-1,25 C1.17,25.33 7.67,26.5 12,27 C16.33,27.5 20.33,28.17 25,28 C29.67,27.83 35,26 40,26 C45,26 49.83,27.83 55,28 C60.17,28.17 68.33,27.17 71,27 L71.1,53.5 L0,53.5 Z" fill="#e6e1ec"/>
<rect x="-1" y="40.5" width="73" height="13" fill="#e6d6e8"/>
<path d="M4,53 L7,44 L11,43 L10,53 Z M13,53 L17,43 L21,44 L19,53 Z M22,53 L24,44 L28,46 L30,53 Z M32,53 L37,43 L41,44 L38,53 Z M41,53 L45,44 L48,44 L47,53 Z M50,53 L52,45 L57,43 L56,53 Z M59,53 L62,43 L66,44 L65,53 Z M67,53 L70,44 L72,53 Z" fill="#c46aae"/>
<rect x="0" y="0" width="70.1" height="52.5" filter="url(#spkD2)" opacity="0.42"/>
<rect x="0" y="0" width="70.1" height="52.5" filter="url(#spkL2)" opacity="0.42"/>
<path d="M-1,5.5 C0,5.23 3.23,4.3 5,3.9 C6.77,3.5 8.05,2.97 9.6,3.1 C11.15,3.23 12.75,4.3 14.3,4.7 C15.85,5.1 17.6,4.6 18.9,5.5 C20.2,6.4 20.8,9.45 22.1,10.1 C23.4,10.75 25.15,9.65 26.7,9.4 C28.25,9.15 29.83,8.87 31.4,8.6 C32.97,8.33 34.55,8.07 36.1,7.8 C37.65,7.53 39.15,7.38 40.7,7 C42.25,6.62 44.1,5.88 45.4,5.5 C46.7,5.12 47.2,4.7 48.5,4.7 C49.8,4.7 51.63,5.5 53.2,5.5 C54.77,5.5 56.08,4.9 57.9,4.7 C59.72,4.5 61.92,4.37 64.1,4.3 C66.28,4.23 69.85,4.3 71,4.3 L72.1,-2 L-2,-2 Z" fill="#d9d7df"/>
<path d="M-1,5.5 C0,5.23 3.23,4.3 5,3.9 C6.77,3.5 8.05,2.97 9.6,3.1 C11.15,3.23 12.75,4.3 14.3,4.7 C15.85,5.1 17.6,4.6 18.9,5.5 C20.2,6.4 20.8,9.45 22.1,10.1 C23.4,10.75 25.15,9.65 26.7,9.4 C28.25,9.15 29.83,8.87 31.4,8.6 C32.97,8.33 34.55,8.07 36.1,7.8 C37.65,7.53 39.15,7.38 40.7,7 C42.25,6.62 44.1,5.88 45.4,5.5 C46.7,5.12 47.2,4.7 48.5,4.7 C49.8,4.7 51.63,5.5 53.2,5.5 C54.77,5.5 56.08,4.9 57.9,4.7 C59.72,4.5 61.92,4.37 64.1,4.3 C66.28,4.23 69.85,4.3 71,4.3 L71,7.7 C69.85,7.7 66.28,7.63 64.1,7.7 C61.92,7.77 59.72,7.9 57.9,8.1 C56.08,8.3 54.77,8.9 53.2,8.9 C51.63,8.9 49.8,8.1 48.5,8.1 C47.2,8.1 46.7,8.52 45.4,8.9 C44.1,9.28 42.25,10.02 40.7,10.4 C39.15,10.78 37.65,10.93 36.1,11.2 C34.55,11.47 32.97,11.73 31.4,12 C29.83,12.27 28.25,12.55 26.7,12.8 C25.15,13.05 23.4,14.15 22.1,13.5 C20.8,12.85 20.2,9.8 18.9,8.9 C17.6,8 15.85,8.5 14.3,8.1 C12.75,7.7 11.15,6.63 9.6,6.5 C8.05,6.37 6.77,6.9 5,7.3 C3.23,7.7 0,8.63 -1,8.9 Z" fill="#6a2a98"/>
<ellipse cx="4" cy="6.5" rx="5" ry="4" fill="#6a2a98"/>
<path d="M18,7 C18.2,10.6 18.8,13 20,13 C21.2,13 21.8,10.6 22,7 Z" fill="#6a2a98" opacity="1"/>
<path d="M28.5,9 C28.65,11.2 29.1,13 30,13 C30.9,13 31.35,11.2 31.5,9 Z" fill="#6a2a98" opacity="1"/>
<circle cx="14" cy="16" r="2" fill="none" stroke="#7a3a9a" stroke-width="1.2"/>
<circle cx="45" cy="14" r="2.2" fill="none" stroke="#7a3a9a" stroke-width="1.2"/>
<circle cx="55" cy="18" r="2.2" fill="none" stroke="#7a3a9a" stroke-width="1.2"/>
<circle cx="30" cy="20" r="1.6" fill="#7a3a9a"/>
<circle cx="63" cy="15" r="1.4" fill="#7a3a9a"/>
<circle cx="22" cy="24" r="1.3" fill="#7a3a9a"/>
</g>
</g>
<line x1="427.15" y1="524.19" x2="427.15" y2="528.87" stroke="#666" stroke-width="1"/>
<line x1="425.65" y1="524.19" x2="428.65" y2="524.19" stroke="#666" stroke-width="1"/>
<line x1="446.9" y1="566.56" x2="446.9" y2="572.92" stroke="#666" stroke-width="1"/>
<line x1="445.4" y1="566.56" x2="448.4" y2="566.56" stroke="#666" stroke-width="1"/>
<line x1="402.7" y1="517.5" x2="402.7" y2="629" stroke="#777" stroke-width="1"/>
<line x1="399.7" y1="629" x2="402.7" y2="629" stroke="#777" stroke-width="1"/>
<text x="396.3" y="631.86" font-size="8" font-weight="normal" text-anchor="end" fill="#2a2a2a" stroke="#2a2a2a" stroke-width="0.2">0</text>
<line x1="399.7" y1="606.7" x2="402.7" y2="606.7" stroke="#777" stroke-width="1"/>
<text x="396.3" y="609.56" font-size="8" font-weight="normal" text-anchor="end" fill="#2a2a2a" stroke="#2a2a2a" stroke-width="0.2">2</text>
<line x1="399.7" y1="584.4" x2="402.7" y2="584.4" stroke="#777" stroke-width="1"/>
<text x="396.3" y="587.26" font-size="8" font-weight="normal" text-anchor="end" fill="#2a2a2a" stroke="#2a2a2a" stroke-width="0.2">4</text>
<line x1="399.7" y1="562.1" x2="402.7" y2="562.1" stroke="#777" stroke-width="1"/>
<text x="396.3" y="564.96" font-size="8" font-weight="normal" text-anchor="end" fill="#2a2a2a" stroke="#2a2a2a" stroke-width="0.2">6</text>
<line x1="399.7" y1="539.8" x2="402.7" y2="539.8" stroke="#777" stroke-width="1"/>
<text x="396.3" y="542.66" font-size="8" font-weight="normal" text-anchor="end" fill="#2a2a2a" stroke="#2a2a2a" stroke-width="0.2">8</text>
<line x1="399.7" y1="517.5" x2="402.7" y2="517.5" stroke="#777" stroke-width="1"/>
<text x="396.3" y="520.36" font-size="8" font-weight="normal" text-anchor="end" fill="#2a2a2a" stroke="#2a2a2a" stroke-width="0.2">10</text>
<rect x="417.3" y="528.87" width="19.7" height="100.13" fill="#000"/>
<rect x="437.4" y="573.32" width="19" height="55.68" fill="url(#hatch)" stroke="#222" stroke-width="0.8"/>
<line x1="399.7" y1="629" x2="471.5" y2="629" stroke="#333" stroke-width="1.1"/>
<polyline points="427.7,521.8 427.7,512.3 447.3,512.3 447.3,549" fill="none" stroke="#888" stroke-width="1.3" stroke-linejoin="round"/>
<polygon points="437.8,504.2 438.54,505.48 439.99,505.79 439,506.89 439.15,508.36 437.8,507.76 436.45,508.36 436.6,506.89 435.61,505.79 437.06,505.48" fill="#111"/>
<text x="425.67" y="500.6" font-size="10.56" font-weight="bold" fill="#000" textLength="23" lengthAdjust="spacingAndGlyphs" stroke="#000" stroke-width="0.3">Skin</text>
<text x="388.6" y="625.8" font-size="11.94" font-weight="bold" fill="#000" textLength="102.26" lengthAdjust="spacingAndGlyphs" transform="rotate(-90 388.6 625.8)" stroke="#000" stroke-width="0.3">Pathological Score</text>
<text x="398.79" y="641" font-size="9.14" font-weight="bold" fill="#000" textLength="36.18" lengthAdjust="spacingAndGlyphs" stroke="#000" stroke-width="0.3">Rat IgG</text>
<text x="435.35" y="641" font-size="9.28" font-weight="bold" fill="#000" textLength="20.82" lengthAdjust="spacingAndGlyphs" stroke="#000" stroke-width="0.3">IFN-</text>
<text x="455.42" y="641.3" font-size="9.05" font-weight="normal" fill="#000" textLength="3.96" lengthAdjust="spacingAndGlyphs" font-style="italic" stroke="#000" stroke-width="0.2">γ</text>
<text x="459.25" y="641" font-size="8.89" font-weight="bold" fill="#000" textLength="23.7" lengthAdjust="spacingAndGlyphs" stroke="#000" stroke-width="0.3">mAb</text>
<text x="61.83" y="658.3" font-size="14.93" font-weight="bold" fill="#000" textLength="11.08" lengthAdjust="spacingAndGlyphs" stroke="#000" stroke-width="0.3">H</text>
<line x1="99.1" y1="654.2" x2="99.1" y2="773.2" stroke="#444" stroke-width="1"/>
<line x1="97.1" y1="773.2" x2="99.1" y2="773.2" stroke="#444" stroke-width="1"/>
<text x="94.1" y="775.35" font-size="6" font-weight="normal" text-anchor="end" fill="#2a2a2a" stroke="#2a2a2a" stroke-width="0.15">0</text>
<line x1="97.1" y1="761.3" x2="99.1" y2="761.3" stroke="#444" stroke-width="1"/>
<text x="94.1" y="763.45" font-size="6" font-weight="normal" text-anchor="end" fill="#2a2a2a" stroke="#2a2a2a" stroke-width="0.15">0.5</text>
<line x1="97.1" y1="749.4" x2="99.1" y2="749.4" stroke="#444" stroke-width="1"/>
<text x="94.1" y="751.55" font-size="6" font-weight="normal" text-anchor="end" fill="#2a2a2a" stroke="#2a2a2a" stroke-width="0.15">1</text>
<line x1="97.1" y1="737.5" x2="99.1" y2="737.5" stroke="#444" stroke-width="1"/>
<text x="94.1" y="739.65" font-size="6" font-weight="normal" text-anchor="end" fill="#2a2a2a" stroke="#2a2a2a" stroke-width="0.15">1.5</text>
<line x1="97.1" y1="725.6" x2="99.1" y2="725.6" stroke="#444" stroke-width="1"/>
<text x="94.1" y="727.75" font-size="6" font-weight="normal" text-anchor="end" fill="#2a2a2a" stroke="#2a2a2a" stroke-width="0.15">2</text>
<line x1="97.1" y1="713.7" x2="99.1" y2="713.7" stroke="#444" stroke-width="1"/>
<text x="94.1" y="715.85" font-size="6" font-weight="normal" text-anchor="end" fill="#2a2a2a" stroke="#2a2a2a" stroke-width="0.15">2.5</text>
<line x1="97.1" y1="701.8" x2="99.1" y2="701.8" stroke="#444" stroke-width="1"/>
<text x="94.1" y="703.95" font-size="6" font-weight="normal" text-anchor="end" fill="#2a2a2a" stroke="#2a2a2a" stroke-width="0.15">3</text>
<line x1="97.1" y1="689.9" x2="99.1" y2="689.9" stroke="#444" stroke-width="1"/>
<text x="94.1" y="692.05" font-size="6" font-weight="normal" text-anchor="end" fill="#2a2a2a" stroke="#2a2a2a" stroke-width="0.15">3.5</text>
<line x1="97.1" y1="678" x2="99.1" y2="678" stroke="#444" stroke-width="1"/>
<text x="94.1" y="680.15" font-size="6" font-weight="normal" text-anchor="end" fill="#2a2a2a" stroke="#2a2a2a" stroke-width="0.15">4</text>
<line x1="97.1" y1="666.1" x2="99.1" y2="666.1" stroke="#444" stroke-width="1"/>
<text x="94.1" y="668.25" font-size="6" font-weight="normal" text-anchor="end" fill="#2a2a2a" stroke="#2a2a2a" stroke-width="0.15">4.5</text>
<line x1="97.1" y1="654.2" x2="99.1" y2="654.2" stroke="#444" stroke-width="1"/>
<text x="94.1" y="656.35" font-size="6" font-weight="normal" text-anchor="end" fill="#2a2a2a" stroke="#2a2a2a" stroke-width="0.15">5</text>
<line x1="99.1" y1="773.2" x2="268" y2="773.2" stroke="#222" stroke-width="1.1"/>
<line x1="99.1" y1="773.2" x2="99.1" y2="775.2" stroke="#444" stroke-width="0.8"/>
<text x="99.1" y="786.3" font-size="6" font-weight="normal" text-anchor="middle" fill="#2a2a2a" stroke="#222" stroke-width="0.28">0</text>
<line x1="115.89" y1="773.2" x2="115.89" y2="775.2" stroke="#444" stroke-width="0.8"/>
<text x="115.89" y="786.3" font-size="6" font-weight="normal" text-anchor="middle" fill="#2a2a2a" stroke="#222" stroke-width="0.28">3</text>
<line x1="132.68" y1="773.2" x2="132.68" y2="775.2" stroke="#444" stroke-width="0.8"/>
<text x="132.68" y="786.3" font-size="6" font-weight="normal" text-anchor="middle" fill="#2a2a2a" stroke="#222" stroke-width="0.28">6</text>
<line x1="149.47" y1="773.2" x2="149.47" y2="775.2" stroke="#444" stroke-width="0.8"/>
<text x="149.47" y="786.3" font-size="6" font-weight="normal" text-anchor="middle" fill="#2a2a2a" stroke="#222" stroke-width="0.28">9</text>
<line x1="166.26" y1="773.2" x2="166.26" y2="775.2" stroke="#444" stroke-width="0.8"/>
<text x="166.26" y="786.3" font-size="6" font-weight="normal" text-anchor="middle" fill="#2a2a2a" stroke="#222" stroke-width="0.28">12</text>
<line x1="183.05" y1="773.2" x2="183.05" y2="775.2" stroke="#444" stroke-width="0.8"/>
<text x="183.05" y="786.3" font-size="6" font-weight="normal" text-anchor="middle" fill="#2a2a2a" stroke="#222" stroke-width="0.28">15</text>
<line x1="199.84" y1="773.2" x2="199.84" y2="775.2" stroke="#444" stroke-width="0.8"/>
<text x="199.84" y="786.3" font-size="6" font-weight="normal" text-anchor="middle" fill="#2a2a2a" stroke="#222" stroke-width="0.28">18</text>
<line x1="216.63" y1="773.2" x2="216.63" y2="775.2" stroke="#444" stroke-width="0.8"/>
<text x="216.63" y="786.3" font-size="6" font-weight="normal" text-anchor="middle" fill="#2a2a2a" stroke="#222" stroke-width="0.28">21</text>
<line x1="233.42" y1="773.2" x2="233.42" y2="775.2" stroke="#444" stroke-width="0.8"/>
<text x="233.42" y="786.3" font-size="6" font-weight="normal" text-anchor="middle" fill="#2a2a2a" stroke="#222" stroke-width="0.28">24</text>
<line x1="250.21" y1="773.2" x2="250.21" y2="775.2" stroke="#444" stroke-width="0.8"/>
<text x="250.21" y="786.3" font-size="6" font-weight="normal" text-anchor="middle" fill="#2a2a2a" stroke="#222" stroke-width="0.28">27</text>
<line x1="267" y1="773.2" x2="267" y2="775.2" stroke="#444" stroke-width="0.8"/>
<text x="267" y="786.3" font-size="6" font-weight="normal" text-anchor="middle" fill="#2a2a2a" stroke="#222" stroke-width="0.28">30</text>
<text x="145.36" y="797" font-size="9.58" font-weight="bold" fill="#000" textLength="77.44" lengthAdjust="spacingAndGlyphs" stroke="#000" stroke-width="0.3">Days after BMT</text>
<text x="79.7" y="746.08" font-size="13.19" font-weight="bold" fill="#000" textLength="66.08" lengthAdjust="spacingAndGlyphs" transform="rotate(-90 79.7 746.08)" stroke="#000" stroke-width="0.3">Skin Score</text>
<line x1="216.63" y1="713.22" x2="216.63" y2="723.93" stroke="#777" stroke-width="1"/>
<line x1="215.13" y1="713.22" x2="218.13" y2="713.22" stroke="#777" stroke-width="1"/>
<line x1="233.42" y1="682.52" x2="233.42" y2="695.61" stroke="#777" stroke-width="1"/>
<line x1="231.92" y1="682.52" x2="234.92" y2="682.52" stroke="#777" stroke-width="1"/>
<line x1="250.21" y1="672.05" x2="250.21" y2="691.09" stroke="#777" stroke-width="1"/>
<line x1="248.71" y1="672.05" x2="251.71" y2="672.05" stroke="#777" stroke-width="1"/>
<line x1="267" y1="667.29" x2="267" y2="682.76" stroke="#777" stroke-width="1"/>
<line x1="265.5" y1="667.29" x2="268.5" y2="667.29" stroke="#777" stroke-width="1"/>
<line x1="199.84" y1="752.97" x2="199.84" y2="758.92" stroke="#777" stroke-width="1"/>
<line x1="198.34" y1="752.97" x2="201.34" y2="752.97" stroke="#777" stroke-width="1"/>
<line x1="216.63" y1="742.26" x2="216.63" y2="749.4" stroke="#777" stroke-width="1"/>
<line x1="215.13" y1="742.26" x2="218.13" y2="742.26" stroke="#777" stroke-width="1"/>
<line x1="233.42" y1="717.75" x2="233.42" y2="724.89" stroke="#777" stroke-width="1"/>
<line x1="231.92" y1="717.75" x2="234.92" y2="717.75" stroke="#777" stroke-width="1"/>
<line x1="250.21" y1="713.7" x2="250.21" y2="722.74" stroke="#777" stroke-width="1"/>
<line x1="248.71" y1="713.7" x2="251.71" y2="713.7" stroke="#777" stroke-width="1"/>
<line x1="267" y1="710.37" x2="267" y2="718.7" stroke="#777" stroke-width="1"/>
<line x1="265.5" y1="710.37" x2="268.5" y2="710.37" stroke="#777" stroke-width="1"/>
<line x1="233.42" y1="737.26" x2="233.42" y2="745.59" stroke="#777" stroke-width="1"/>
<line x1="231.92" y1="737.26" x2="234.92" y2="737.26" stroke="#777" stroke-width="1"/>
<line x1="250.21" y1="739.64" x2="250.21" y2="744.4" stroke="#777" stroke-width="1"/>
<line x1="248.71" y1="739.64" x2="251.71" y2="739.64" stroke="#777" stroke-width="1"/>
<line x1="183.05" y1="766.06" x2="183.05" y2="773.2" stroke="#777" stroke-width="1"/>
<line x1="181.55" y1="766.06" x2="184.55" y2="766.06" stroke="#777" stroke-width="1"/>
<polyline points="183.05,773.2 199.84,741.78 216.63,723.93 233.42,695.61 250.21,691.09 267,682.76" fill="none" stroke="#000" stroke-width="1.2" stroke-linejoin="round"/>
<polyline points="183.05,773.2 199.84,758.92 216.63,749.4 233.42,724.89 250.21,722.74 267,718.7" fill="none" stroke="#000" stroke-width="1.2" stroke-linejoin="round"/>
<polyline points="183.05,773.2 199.84,763.2 216.63,757.73 233.42,745.59 250.21,744.4 267,738.21" fill="none" stroke="#000" stroke-width="1.2" stroke-linejoin="round"/>
<circle cx="99.1" cy="773.2" r="2.4" fill="#000"/>
<circle cx="115.89" cy="773.2" r="2.4" fill="#000"/>
<circle cx="132.68" cy="773.2" r="2.4" fill="#000"/>
<circle cx="149.47" cy="773.2" r="2.4" fill="#000"/>
<circle cx="166.26" cy="773.2" r="2.4" fill="#000"/>
<circle cx="183.05" cy="773.2" r="2.4" fill="#000"/>
<circle cx="199.84" cy="741.78" r="2.6" fill="#000"/>
<polygon points="199.84,756.07 197.19,760.67 202.48,760.67" fill="#000"/>
<polygon points="199.84,760.35 197.19,764.95 202.48,764.95" fill="#fff" stroke="#000" stroke-width="0.9"/>
<circle cx="216.63" cy="723.93" r="2.6" fill="#000"/>
<polygon points="216.63,746.55 213.98,751.15 219.28,751.15" fill="#000"/>
<polygon points="216.63,754.88 213.98,759.48 219.28,759.48" fill="#fff" stroke="#000" stroke-width="0.9"/>
<circle cx="233.42" cy="695.61" r="2.6" fill="#000"/>
<polygon points="233.42,722.03 230.77,726.63 236.06,726.63" fill="#000"/>
<polygon points="233.42,742.74 230.77,747.34 236.06,747.34" fill="#fff" stroke="#000" stroke-width="0.9"/>
<circle cx="250.21" cy="691.09" r="2.6" fill="#000"/>
<polygon points="250.21,719.89 247.56,724.49 252.85,724.49" fill="#000"/>
<polygon points="250.21,741.55 247.56,746.15 252.85,746.15" fill="#fff" stroke="#000" stroke-width="0.9"/>
<circle cx="267" cy="682.76" r="2.6" fill="#000"/>
<polygon points="267,715.85 264.36,720.45 269.64,720.45" fill="#000"/>
<polygon points="267,735.36 264.36,739.96 269.64,739.96" fill="#fff" stroke="#000" stroke-width="0.9"/>
<polyline points="273.5,680.9 277.3,680.9 277.3,717 274,717" fill="none" stroke="#333" stroke-width="1" stroke-linejoin="round"/>
<polyline points="274,718.3 277.3,718.3 277.3,739.3 273.5,739.3" fill="none" stroke="#333" stroke-width="1" stroke-linejoin="round"/>
<polygon points="282,697.6 282.68,698.77 284,699.05 283.1,700.06 283.23,701.4 282,700.86 280.77,701.4 280.9,700.06 280,699.05 281.32,698.77" fill="#111"/>
<polygon points="282,726.4 282.68,727.57 284,727.85 283.1,728.86 283.23,730.2 282,729.65 280.77,730.2 280.9,728.86 280,727.85 281.32,727.57" fill="#111"/>
<line x1="305" y1="677.5" x2="345.4" y2="677.5" stroke="#111" stroke-width="1.2"/>
<circle cx="325" cy="677.5" r="2.6" fill="#000"/>
<line x1="305" y1="691.5" x2="345.4" y2="691.5" stroke="#111" stroke-width="1.2"/>
<polygon points="325,688.28 322.01,693.48 327.99,693.48" fill="#000"/>
<line x1="305" y1="708.5" x2="345.4" y2="708.5" stroke="#111" stroke-width="1.2"/>
<polygon points="325,705.28 322.01,710.48 327.99,710.48" fill="#fff" stroke="#000" stroke-width="0.9"/>
<text x="354.6" y="680.4" font-size="9.29" font-weight="bold" fill="#000" textLength="62.7" lengthAdjust="spacingAndGlyphs" stroke="#000" stroke-width="0.3">WT + Rat IgG</text>
<text x="353.32" y="696.3" font-size="9.71" font-weight="bold" fill="#000" textLength="22.71" lengthAdjust="spacingAndGlyphs" stroke="#000" stroke-width="0.3">IL-17</text>
<text x="375.72" y="692.04" font-size="8.11" font-weight="bold" fill="#000" textLength="11.41" lengthAdjust="spacingAndGlyphs" stroke="#000" stroke-width="0.3">-/-</text>
<text x="387.1" y="696.3" font-size="9.57" font-weight="bold" fill="#000" textLength="43.87" lengthAdjust="spacingAndGlyphs" stroke="#000" stroke-width="0.3">+ Rat IgG</text>
<text x="353.32" y="712.2" font-size="9.71" font-weight="bold" fill="#000" textLength="22.71" lengthAdjust="spacingAndGlyphs" stroke="#000" stroke-width="0.3">IL-17</text>
<text x="375.72" y="708.04" font-size="8.11" font-weight="bold" fill="#000" textLength="11.41" lengthAdjust="spacingAndGlyphs" stroke="#000" stroke-width="0.3">-/-</text>
<text x="387.12" y="712.2" font-size="9.71" font-weight="bold" fill="#000" textLength="26.3" lengthAdjust="spacingAndGlyphs" stroke="#000" stroke-width="0.3">+ IFN-</text>
<text x="412.72" y="712.47" font-size="9.19" font-weight="normal" fill="#000" textLength="3.96" lengthAdjust="spacingAndGlyphs" font-style="italic" stroke="#000" stroke-width="0.2">γ</text>
<text x="415.38" y="712.2" font-size="9.31" font-weight="bold" fill="#000" textLength="26.12" lengthAdjust="spacingAndGlyphs" stroke="#000" stroke-width="0.3">mAb</text>
</svg></body></html>
